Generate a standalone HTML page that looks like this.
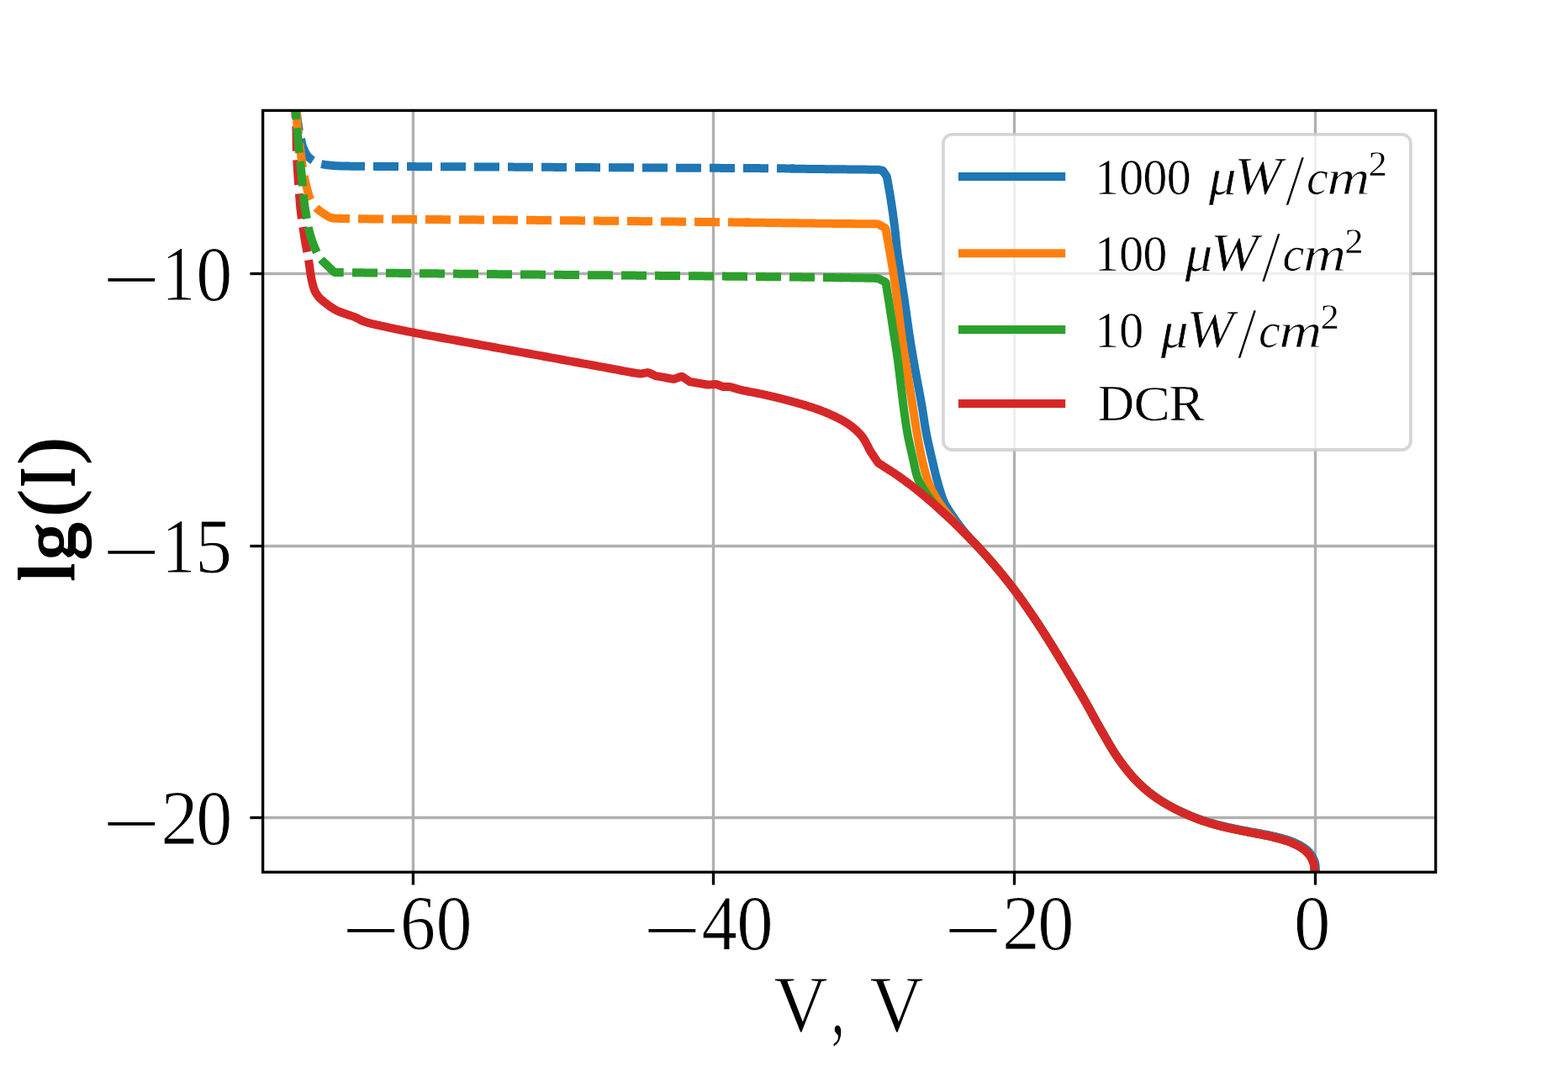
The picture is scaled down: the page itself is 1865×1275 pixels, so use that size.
<!DOCTYPE html>
<html lang="en"><head><meta charset="utf-8"><title>lg(I) vs V</title>
<style>html,body{margin:0;padding:0;background:#fff}body{width:1865px;height:1275px;overflow:hidden}svg{display:block}text{font-family:"Liberation Serif","DejaVu Serif",serif;fill:#000;white-space:pre}</style>
</head><body>
<svg width="1865" height="1275" viewBox="0 0 1865 1275">
<rect width="1865" height="1275" fill="#fff"/>
<defs><clipPath id="ax"><rect x="312.6" y="131.4" width="1395.0" height="905.9"/></clipPath></defs>
<g stroke="#b0b0b0" stroke-width="3.33" fill="none">
<line x1="491.4" y1="131.4" x2="491.4" y2="1037.3"/>
<line x1="848.5" y1="131.4" x2="848.5" y2="1037.3"/>
<line x1="1206.5" y1="131.4" x2="1206.5" y2="1037.3"/>
<line x1="1564.5" y1="131.4" x2="1564.5" y2="1037.3"/>
<line x1="312.6" y1="325.5" x2="1707.6" y2="325.5"/>
<line x1="312.6" y1="649.5" x2="1707.6" y2="649.5"/>
<line x1="312.6" y1="972.5" x2="1707.6" y2="972.5"/>
</g>
<g clip-path="url(#ax)" fill="none" stroke-width="10.0" stroke-linejoin="round" stroke-linecap="butt">
<path stroke="#1f77b4" d="M940.00 200.51 L941.50 200.55 L943.00 200.58 L944.50 200.61 L946.00 200.64 L947.50 200.68 L949.00 200.71 L950.50 200.74 L952.00 200.77 L953.50 200.80 L955.00 200.82 L956.50 200.85 L958.00 200.87 L959.50 200.89 L961.00 200.91 L962.50 200.93 L964.00 200.95 L965.50 200.97 L967.01 200.98 L968.51 201.00 L970.01 201.02 L971.51 201.03 L973.01 201.05 L974.51 201.06 L976.01 201.08 L977.51 201.09 L979.01 201.10 L980.51 201.12 L982.01 201.13 L983.51 201.15 L985.01 201.16 L986.51 201.17 L988.01 201.19 L989.51 201.20 L991.01 201.21 L992.51 201.23 L994.01 201.24 L995.51 201.26 L997.01 201.27 L998.51 201.28 L1000.01 201.30 L1001.52 201.32 L1003.02 201.33 L1004.52 201.35 L1006.02 201.36 L1007.52 201.38 L1009.02 201.39 L1010.52 201.41 L1012.02 201.42 L1013.52 201.44 L1015.02 201.45 L1016.52 201.47 L1018.02 201.48 L1019.52 201.50 L1021.02 201.51 L1022.52 201.53 L1024.02 201.54 L1025.52 201.56 L1027.02 201.58 L1028.52 201.59 L1030.02 201.61 L1031.52 201.63 L1033.02 201.64 L1034.52 201.66 L1036.03 201.68 L1037.53 201.70 L1039.03 201.72 L1040.53 201.74 L1042.03 201.76 L1043.53 201.78 L1045.03 201.80 L1046.50 202.07 L1047.98 202.35 L1049.45 202.63 L1050.45 203.64 L1051.29 204.88 L1052.14 206.12 L1052.99 207.36 L1053.84 208.60 L1054.69 209.83 L1055.03 211.28 L1055.29 212.76 L1055.55 214.23 L1055.82 215.71 L1056.08 217.19 L1056.34 218.67 L1056.61 220.14 L1056.87 221.62 L1057.13 223.10 L1057.40 224.57 L1057.66 226.05 L1057.92 227.53 L1058.19 229.01 L1058.45 230.48 L1058.68 231.97 L1058.92 233.45 L1059.15 234.93 L1059.38 236.41 L1059.61 237.90 L1059.84 239.38 L1060.07 240.86 L1060.29 242.35 L1060.51 243.83 L1060.74 245.31 L1060.95 246.80 L1061.17 248.28 L1061.39 249.77 L1061.60 251.25 L1061.81 252.74 L1062.02 254.22 L1062.23 255.71 L1062.43 257.20 L1062.63 258.68 L1062.83 260.17 L1063.03 261.66 L1063.23 263.15 L1063.42 264.63 L1063.61 266.12 L1063.80 267.61 L1063.98 269.10 L1064.17 270.59 L1064.35 272.08 L1064.52 273.57 L1064.69 275.06 L1064.85 276.55 L1065.01 278.04 L1065.16 279.54 L1065.31 281.03 L1065.46 282.52 L1065.61 284.02 L1065.76 285.51 L1065.90 287.00 L1066.05 288.50 L1066.20 289.99 L1066.35 291.48 L1066.50 292.98 L1066.66 294.47 L1066.83 295.96 L1067.00 297.45 L1067.17 298.94 L1067.35 300.43 L1067.54 301.92 L1067.74 303.41 L1067.95 304.89 L1068.16 306.38 L1068.37 307.86 L1068.59 309.35 L1068.82 310.83 L1069.04 312.31 L1069.27 313.80 L1069.49 315.28 L1069.72 316.76 L1069.94 318.25 L1070.16 319.73 L1070.38 321.22 L1070.60 322.70 L1070.82 324.19 L1071.04 325.67 L1071.26 327.15 L1071.49 328.64 L1071.71 330.12 L1071.93 331.61 L1072.16 333.09 L1072.38 334.57 L1072.61 336.06 L1072.83 337.54 L1073.06 339.02 L1073.28 340.51 L1073.51 341.99 L1073.73 343.47 L1073.96 344.96 L1074.18 346.44 L1074.40 347.92 L1074.63 349.41 L1074.85 350.89 L1075.07 352.38 L1075.29 353.86 L1075.51 355.34 L1075.73 356.83 L1075.95 358.31 L1076.17 359.80 L1076.39 361.28 L1076.60 362.77 L1076.81 364.25 L1077.03 365.74 L1077.23 367.22 L1077.44 368.71 L1077.65 370.20 L1077.86 371.68 L1078.06 373.17 L1078.27 374.66 L1078.48 376.14 L1078.68 377.63 L1078.89 379.11 L1079.09 380.60 L1079.30 382.09 L1079.51 383.57 L1079.72 385.06 L1079.93 386.55 L1080.14 388.03 L1080.35 389.52 L1080.56 391.00 L1080.78 392.49 L1080.99 393.97 L1081.21 395.46 L1081.43 396.94 L1081.66 398.42 L1081.89 399.91 L1082.11 401.39 L1082.35 402.87 L1082.58 404.35 L1082.81 405.84 L1083.05 407.32 L1083.29 408.80 L1083.53 410.28 L1083.77 411.76 L1084.01 413.24 L1084.26 414.72 L1084.50 416.20 L1084.75 417.68 L1085.00 419.16 L1085.25 420.64 L1085.50 422.12 L1085.75 423.60 L1086.00 425.08 L1086.26 426.56 L1086.51 428.04 L1086.77 429.52 L1087.03 431.00 L1087.28 432.47 L1087.54 433.95 L1087.80 435.43 L1088.06 436.91 L1088.32 438.39 L1088.58 439.86 L1088.84 441.34 L1089.10 442.82 L1089.37 444.29 L1089.64 445.77 L1089.91 447.25 L1090.18 448.72 L1090.46 450.20 L1090.73 451.67 L1091.01 453.15 L1091.29 454.62 L1091.57 456.10 L1091.85 457.57 L1092.13 459.04 L1092.41 460.52 L1092.69 461.99 L1092.97 463.47 L1093.25 464.94 L1093.53 466.41 L1093.81 467.89 L1094.08 469.36 L1094.36 470.84 L1094.63 472.32 L1094.90 473.79 L1095.16 475.27 L1095.43 476.75 L1095.69 478.22 L1095.95 479.70 L1096.20 481.18 L1096.45 482.66 L1096.70 484.14 L1096.94 485.62 L1097.17 487.10 L1097.41 488.58 L1097.64 490.07 L1097.87 491.55 L1098.10 493.03 L1098.33 494.52 L1098.56 496.00 L1098.78 497.48 L1099.01 498.96 L1099.24 500.45 L1099.48 501.93 L1099.71 503.41 L1099.95 504.89 L1100.19 506.37 L1100.44 507.85 L1100.69 509.33 L1100.94 510.81 L1101.20 512.29 L1101.47 513.77 L1101.75 515.24 L1102.03 516.72 L1102.31 518.19 L1102.61 519.66 L1102.91 521.13 L1103.21 522.60 L1103.52 524.07 L1103.84 525.53 L1104.16 527.00 L1104.48 528.47 L1104.81 529.93 L1105.13 531.40 L1105.47 532.86 L1105.80 534.32 L1106.14 535.78 L1106.47 537.25 L1106.81 538.71 L1107.15 540.17 L1107.49 541.63 L1107.83 543.09 L1108.17 544.55 L1108.51 546.02 L1108.85 547.48 L1109.19 548.94 L1109.53 550.40 L1109.86 551.86 L1110.20 553.32 L1110.54 554.79 L1110.89 556.25 L1111.23 557.71 L1111.58 559.17 L1111.93 560.63 L1112.28 562.08 L1112.64 563.54 L1113.00 565.00 L1113.37 566.45 L1113.74 567.91 L1114.12 569.36 L1114.51 570.81 L1114.90 572.26 L1115.30 573.70 L1115.71 575.15 L1116.13 576.59 L1116.54 578.03 L1116.95 579.47 L1117.37 580.91 L1117.80 582.35 L1118.23 583.79 L1118.67 585.22 L1119.12 586.65 L1119.58 588.08 L1120.06 589.50 L1120.56 590.92 L1121.07 592.33 L1121.60 593.73 L1122.15 595.13 L1122.73 596.52 L1123.33 597.89 L1123.98 599.24 L1124.68 600.57 L1125.42 601.87 L1126.19 603.16 L1126.99 604.44 L1127.79 605.70 L1128.61 606.96 L1129.43 608.21 L1130.25 609.47 L1131.06 610.73 L1131.89 611.98 L1132.73 613.23 L1133.57 614.47 L1134.43 615.70 L1135.29 616.93 L1136.16 618.15 L1137.04 619.37 L1137.92 620.58 L1138.81 621.79 L1139.70 623.00 L1140.59 624.21 L1141.49 625.41 L1142.40 626.60 L1143.31 627.80 L1144.23 628.98 L1145.15 630.17 L1146.08 631.34 L1147.03 632.51 L1147.98 633.67 L1148.94 634.82 L1149.91 635.96 L1150.90 637.09 L1151.91 638.20 L1152.93 639.31 L1153.95 640.40 L1154.99 641.49 L1156.02 642.57 L1157.06 643.66 L1158.09 644.74 L1159.12 645.84 L1160.14 646.94 L1161.16 648.04 L1162.17 649.15 L1163.19 650.25 L1164.20 651.36 L1165.22 652.46 L1166.23 653.57 L1167.24 654.68 L1168.26 655.78 L1169.27 656.89 L1170.28 658.00 L1171.28 659.12 L1172.29 660.23 L1173.29 661.35 L1174.29 662.46 L1175.29 663.59 L1176.28 664.71 L1177.27 665.84 L1178.26 666.97 L1179.24 668.10 L1180.22 669.24 L1181.20 670.38 L1182.17 671.52 L1183.15 672.66 L1184.12 673.80 L1185.09 674.95 L1186.05 676.10 L1187.02 677.25 L1187.98 678.40 L1188.94 679.55 L1189.90 680.70 L1190.86 681.86 L1191.81 683.02 L1192.77 684.18 L1193.72 685.34 L1194.66 686.50 L1195.61 687.67 L1196.55 688.84 L1197.49 690.01 L1198.42 691.18 L1199.35 692.36 L1200.28 693.54 L1201.21 694.72 L1202.13 695.90 L1203.05 697.08 L1203.97 698.27 L1204.88 699.46 L1205.79 700.66 L1206.70 701.85 L1207.60 703.05 L1208.50 704.26 L1209.39 705.46 L1210.28 706.67 L1211.17 707.88 L1212.05 709.09 L1212.93 710.31 L1213.81 711.52 L1214.69 712.74 L1215.56 713.96 L1216.43 715.19 L1217.29 716.41 L1218.16 717.64 L1219.02 718.87 L1219.88 720.10 L1220.73 721.33 L1221.59 722.56 L1222.44 723.80 L1223.29 725.03 L1224.14 726.27 L1224.99 727.51 L1225.84 728.75 L1226.68 729.99 L1227.52 731.23 L1228.37 732.47 L1229.21 733.71 L1230.05 734.96 L1230.88 736.20 L1231.72 737.45 L1232.55 738.70 L1233.38 739.95 L1234.21 741.20 L1235.04 742.45 L1235.86 743.70 L1236.68 744.96 L1237.50 746.22 L1238.32 747.47 L1239.13 748.73 L1239.95 749.99 L1240.76 751.26 L1241.57 752.52 L1242.38 753.78 L1243.19 755.05 L1243.99 756.31 L1244.80 757.58 L1245.60 758.85 L1246.40 760.12 L1247.20 761.39 L1248.00 762.66 L1248.80 763.93 L1249.59 765.20 L1250.39 766.47 L1251.19 767.74 L1251.98 769.02 L1252.77 770.29 L1253.56 771.57 L1254.34 772.85 L1255.13 774.13 L1255.91 775.41 L1256.69 776.69 L1257.47 777.97 L1258.25 779.25 L1259.03 780.53 L1259.81 781.82 L1260.59 783.10 L1261.36 784.39 L1262.13 785.67 L1262.91 786.96 L1263.68 788.24 L1264.45 789.53 L1265.22 790.82 L1265.99 792.11 L1266.76 793.39 L1267.54 794.68 L1268.31 795.97 L1269.07 797.26 L1269.84 798.54 L1270.61 799.83 L1271.38 801.12 L1272.15 802.41 L1272.92 803.70 L1273.69 804.99 L1274.46 806.27 L1275.23 807.56 L1276.00 808.85 L1276.76 810.14 L1277.53 811.43 L1278.30 812.72 L1279.06 814.01 L1279.83 815.30 L1280.59 816.60 L1281.35 817.89 L1282.11 819.18 L1282.87 820.48 L1283.63 821.77 L1284.39 823.07 L1285.15 824.36 L1285.90 825.66 L1286.65 826.96 L1287.41 828.25 L1288.16 829.55 L1288.91 830.85 L1289.65 832.15 L1290.40 833.46 L1291.14 834.76 L1291.88 836.07 L1292.61 837.38 L1293.34 838.69 L1294.07 840.00 L1294.80 841.31 L1295.52 842.62 L1296.25 843.94 L1296.97 845.26 L1297.69 846.57 L1298.41 847.89 L1299.13 849.21 L1299.85 850.52 L1300.57 851.84 L1301.29 853.16 L1302.01 854.47 L1302.73 855.79 L1303.45 857.10 L1304.18 858.42 L1304.90 859.73 L1305.63 861.04 L1306.37 862.35 L1307.10 863.66 L1307.84 864.96 L1308.58 866.27 L1309.33 867.57 L1310.08 868.87 L1310.83 870.16 L1311.59 871.46 L1312.33 872.76 L1313.08 874.06 L1313.83 875.37 L1314.58 876.67 L1315.33 877.97 L1316.08 879.27 L1316.83 880.57 L1317.58 881.86 L1318.34 883.16 L1319.09 884.46 L1319.86 885.75 L1320.62 887.04 L1321.39 888.32 L1322.17 889.61 L1322.95 890.89 L1323.74 892.17 L1324.54 893.44 L1325.34 894.71 L1326.15 895.97 L1326.97 897.23 L1327.79 898.48 L1328.63 899.72 L1329.48 900.96 L1330.33 902.20 L1331.20 903.42 L1332.07 904.65 L1332.94 905.87 L1333.82 907.08 L1334.71 908.29 L1335.61 909.49 L1336.51 910.69 L1337.42 911.88 L1338.34 913.07 L1339.27 914.25 L1340.20 915.42 L1341.14 916.59 L1342.09 917.75 L1343.05 918.91 L1344.02 920.06 L1345.00 921.19 L1345.98 922.32 L1346.98 923.45 L1347.98 924.56 L1349.00 925.67 L1350.02 926.76 L1351.06 927.85 L1352.11 928.92 L1353.16 929.99 L1354.23 931.05 L1355.30 932.10 L1356.38 933.13 L1357.47 934.16 L1358.57 935.18 L1359.68 936.19 L1360.80 937.19 L1361.93 938.18 L1363.07 939.16 L1364.21 940.13 L1365.37 941.09 L1366.53 942.04 L1367.70 942.97 L1368.89 943.90 L1370.08 944.81 L1371.28 945.71 L1372.49 946.59 L1373.71 947.47 L1374.94 948.33 L1376.18 949.18 L1377.42 950.01 L1378.68 950.84 L1379.94 951.65 L1381.20 952.46 L1382.48 953.25 L1383.75 954.04 L1385.04 954.81 L1386.33 955.58 L1387.63 956.33 L1388.93 957.08 L1390.24 957.81 L1391.55 958.54 L1392.87 959.26 L1394.19 959.96 L1395.52 960.66 L1396.86 961.35 L1398.19 962.02 L1399.54 962.69 L1400.89 963.35 L1402.24 964.00 L1403.59 964.64 L1404.95 965.28 L1406.32 965.90 L1407.69 966.52 L1409.06 967.13 L1410.43 967.74 L1411.81 968.33 L1413.18 968.93 L1414.57 969.51 L1415.95 970.09 L1417.34 970.66 L1418.73 971.23 L1420.12 971.79 L1421.52 972.33 L1422.92 972.87 L1424.32 973.41 L1425.73 973.93 L1427.14 974.44 L1428.55 974.93 L1429.97 975.42 L1431.40 975.90 L1432.82 976.37 L1434.25 976.83 L1435.68 977.28 L1437.11 977.72 L1438.55 978.16 L1439.99 978.58 L1441.43 979.00 L1442.87 979.41 L1444.32 979.82 L1445.77 980.21 L1447.21 980.60 L1448.67 980.98 L1450.12 981.36 L1451.57 981.73 L1453.03 982.08 L1454.49 982.44 L1455.95 982.78 L1457.41 983.12 L1458.88 983.45 L1460.34 983.77 L1461.81 984.09 L1463.27 984.41 L1464.74 984.72 L1466.21 985.03 L1467.68 985.34 L1469.15 985.64 L1470.62 985.95 L1472.09 986.25 L1473.56 986.55 L1475.03 986.84 L1476.50 987.12 L1477.98 987.41 L1479.45 987.69 L1480.92 987.97 L1482.40 988.25 L1483.87 988.52 L1485.35 988.80 L1486.82 989.08 L1488.30 989.35 L1489.77 989.63 L1491.25 989.91 L1492.72 990.19 L1494.20 990.47 L1495.67 990.74 L1497.15 991.00 L1498.62 991.27 L1500.10 991.54 L1501.58 991.81 L1503.05 992.09 L1504.53 992.37 L1506.00 992.65 L1507.47 992.95 L1508.94 993.25 L1510.41 993.56 L1511.87 993.88 L1513.34 994.21 L1514.80 994.55 L1516.26 994.88 L1517.72 995.23 L1519.18 995.58 L1520.64 995.94 L1522.09 996.32 L1523.54 996.70 L1524.99 997.10 L1526.43 997.50 L1527.87 997.93 L1529.31 998.36 L1530.74 998.82 L1532.16 999.29 L1533.58 999.78 L1534.99 1000.29 L1536.39 1000.82 L1537.79 1001.38 L1539.17 1001.96 L1540.55 1002.56 L1541.91 1003.19 L1543.26 1003.84 L1544.60 1004.52 L1545.92 1005.22 L1547.23 1005.96 L1548.52 1006.72 L1549.80 1007.52 L1551.04 1008.35 L1552.26 1009.23 L1553.44 1010.15 L1554.59 1011.12 L1555.67 1012.16 L1556.71 1013.24 L1557.70 1014.37 L1558.63 1015.54 L1559.52 1016.76 L1560.34 1018.01 L1561.09 1019.31 L1561.79 1020.64 L1562.46 1021.98 L1563.08 1023.35 L1563.63 1024.74 L1564.07 1026.18 L1564.36 1027.65 L1564.54 1029.14 L1564.69 1030.63 L1564.82 1032.12 L1564.91 1033.62 L1564.96 1035.12 L1564.99 1036.62 L1565.01 1038.12 L1565.02 1039.62 L1565.04 1041.12 L1565.05 1042.62 L1565.06 1044.12 L1565.07 1045.62 L1565.07 1047.13 L1565.07 1048.63"/>
<path stroke="#ff7f0e" d="M886.00 264.56 L887.50 264.58 L889.00 264.60 L890.50 264.62 L892.00 264.64 L893.50 264.66 L894.99 264.68 L896.49 264.70 L897.99 264.72 L899.49 264.74 L900.99 264.76 L902.49 264.78 L903.99 264.80 L905.49 264.81 L906.99 264.83 L908.49 264.85 L909.98 264.87 L911.48 264.89 L912.98 264.91 L914.48 264.93 L915.98 264.95 L917.48 264.97 L918.98 264.99 L920.48 265.01 L921.98 265.03 L923.48 265.05 L924.97 265.07 L926.47 265.09 L927.97 265.11 L929.47 265.13 L930.97 265.15 L932.47 265.17 L933.97 265.19 L935.47 265.21 L936.97 265.23 L938.47 265.24 L939.97 265.26 L941.46 265.28 L942.96 265.30 L944.46 265.32 L945.96 265.34 L947.46 265.36 L948.96 265.38 L950.46 265.40 L951.96 265.42 L953.46 265.43 L954.96 265.45 L956.45 265.47 L957.95 265.49 L959.45 265.51 L960.95 265.53 L962.45 265.55 L963.95 265.56 L965.45 265.58 L966.95 265.60 L968.45 265.62 L969.95 265.64 L971.44 265.65 L972.94 265.67 L974.44 265.69 L975.94 265.71 L977.44 265.72 L978.94 265.74 L980.44 265.76 L981.94 265.78 L983.44 265.79 L984.94 265.81 L986.44 265.83 L987.93 265.84 L989.43 265.86 L990.93 265.88 L992.43 265.89 L993.93 265.91 L995.43 265.92 L996.93 265.94 L998.43 265.96 L999.93 265.97 L1001.43 265.99 L1002.93 266.00 L1004.42 266.02 L1005.92 266.03 L1007.42 266.05 L1008.92 266.06 L1010.42 266.08 L1011.92 266.09 L1013.42 266.10 L1014.92 266.12 L1016.42 266.13 L1017.92 266.14 L1019.42 266.15 L1020.91 266.17 L1022.41 266.18 L1023.91 266.19 L1025.41 266.20 L1026.91 266.21 L1028.41 266.22 L1029.91 266.23 L1031.41 266.25 L1032.91 266.26 L1034.41 266.27 L1035.91 266.29 L1037.40 266.31 L1038.90 266.33 L1040.40 266.35 L1041.90 266.37 L1043.40 266.39 L1044.81 266.74 L1046.13 267.46 L1047.44 268.17 L1048.76 268.89 L1050.07 269.61 L1051.39 270.33 L1052.71 271.05 L1053.41 272.21 L1053.68 273.69 L1053.95 275.16 L1054.23 276.64 L1054.50 278.11 L1054.77 279.58 L1055.04 281.06 L1055.32 282.53 L1055.59 284.01 L1055.86 285.48 L1056.12 286.96 L1056.39 288.43 L1056.65 289.91 L1056.92 291.38 L1057.18 292.86 L1057.44 294.34 L1057.71 295.81 L1057.97 297.29 L1058.23 298.76 L1058.49 300.24 L1058.75 301.72 L1059.01 303.19 L1059.26 304.67 L1059.52 306.15 L1059.77 307.63 L1060.02 309.10 L1060.27 310.58 L1060.52 312.06 L1060.76 313.54 L1061.00 315.02 L1061.24 316.50 L1061.48 317.98 L1061.72 319.46 L1061.95 320.94 L1062.18 322.42 L1062.40 323.91 L1062.63 325.39 L1062.85 326.87 L1063.08 328.35 L1063.30 329.84 L1063.51 331.32 L1063.73 332.80 L1063.95 334.29 L1064.16 335.77 L1064.37 337.25 L1064.59 338.74 L1064.80 340.22 L1065.01 341.71 L1065.21 343.19 L1065.42 344.68 L1065.63 346.16 L1065.83 347.65 L1066.03 349.13 L1066.24 350.62 L1066.44 352.10 L1066.64 353.59 L1066.84 355.07 L1067.04 356.56 L1067.24 358.04 L1067.44 359.53 L1067.63 361.02 L1067.83 362.50 L1068.02 363.99 L1068.21 365.48 L1068.40 366.97 L1068.58 368.45 L1068.76 369.94 L1068.95 371.43 L1069.13 372.92 L1069.30 374.41 L1069.48 375.89 L1069.66 377.38 L1069.84 378.87 L1070.02 380.36 L1070.20 381.85 L1070.37 383.34 L1070.55 384.83 L1070.74 386.31 L1070.92 387.80 L1071.10 389.29 L1071.29 390.78 L1071.48 392.26 L1071.67 393.75 L1071.86 395.24 L1072.06 396.72 L1072.25 398.21 L1072.46 399.70 L1072.66 401.18 L1072.87 402.66 L1073.09 404.15 L1073.30 405.63 L1073.52 407.12 L1073.74 408.60 L1073.97 410.08 L1074.19 411.56 L1074.42 413.04 L1074.65 414.53 L1074.88 416.01 L1075.11 417.49 L1075.34 418.97 L1075.58 420.45 L1075.81 421.93 L1076.05 423.41 L1076.29 424.89 L1076.53 426.37 L1076.76 427.85 L1077.00 429.33 L1077.24 430.81 L1077.48 432.29 L1077.71 433.77 L1077.95 435.25 L1078.18 436.73 L1078.42 438.21 L1078.65 439.69 L1078.88 441.18 L1079.12 442.66 L1079.35 444.14 L1079.58 445.62 L1079.82 447.10 L1080.05 448.58 L1080.29 450.06 L1080.52 451.54 L1080.76 453.02 L1080.99 454.50 L1081.23 455.98 L1081.46 457.46 L1081.70 458.94 L1081.93 460.42 L1082.17 461.91 L1082.41 463.39 L1082.64 464.87 L1082.88 466.35 L1083.11 467.83 L1083.35 469.31 L1083.59 470.79 L1083.82 472.27 L1084.06 473.75 L1084.29 475.23 L1084.53 476.71 L1084.76 478.19 L1085.00 479.67 L1085.23 481.15 L1085.46 482.63 L1085.70 484.11 L1085.93 485.60 L1086.15 487.08 L1086.38 488.56 L1086.61 490.04 L1086.84 491.52 L1087.06 493.00 L1087.29 494.49 L1087.52 495.97 L1087.75 497.45 L1087.98 498.93 L1088.21 500.41 L1088.44 501.89 L1088.67 503.37 L1088.91 504.85 L1089.15 506.34 L1089.39 507.81 L1089.63 509.29 L1089.88 510.77 L1090.13 512.25 L1090.38 513.73 L1090.64 515.21 L1090.89 516.68 L1091.15 518.16 L1091.41 519.64 L1091.67 521.11 L1091.93 522.59 L1092.20 524.06 L1092.46 525.54 L1092.73 527.01 L1093.01 528.49 L1093.28 529.96 L1093.56 531.44 L1093.84 532.91 L1094.13 534.38 L1094.42 535.85 L1094.72 537.32 L1095.02 538.79 L1095.33 540.25 L1095.65 541.72 L1095.97 543.18 L1096.30 544.65 L1096.63 546.11 L1096.97 547.57 L1097.31 549.03 L1097.66 550.49 L1098.01 551.94 L1098.37 553.40 L1098.73 554.85 L1099.10 556.31 L1099.47 557.76 L1099.86 559.21 L1100.25 560.66 L1100.65 562.10 L1101.06 563.54 L1101.48 564.98 L1101.91 566.42 L1102.35 567.85 L1102.81 569.28 L1103.27 570.70 L1103.75 572.12 L1104.24 573.54 L1104.75 574.95 L1105.28 576.36 L1105.84 577.74 L1106.43 579.12 L1107.05 580.49 L1107.70 581.84 L1108.36 583.18 L1109.04 584.52 L1109.73 585.85 L1110.43 587.18 L1111.14 588.50 L1111.87 589.80 L1112.62 591.10 L1113.39 592.39 L1114.18 593.67 L1114.98 594.94 L1115.79 596.20 L1116.61 597.45 L1117.45 598.69 L1118.30 599.93 L1119.16 601.15 L1120.04 602.37 L1120.93 603.57 L1121.84 604.77 L1122.75 605.95 L1123.68 607.13 L1124.61 608.31 L1125.55 609.47 L1126.49 610.64 L1127.44 611.81 L1128.38 612.97 L1129.33 614.13 L1130.28 615.29 L1131.24 616.44 L1132.21 617.59 L1133.17 618.73 L1134.15 619.87 L1135.13 621.01 L1136.11 622.14 L1137.10 623.27 L1138.10 624.39 L1139.10 625.50 L1140.10 626.61 L1141.12 627.72 L1142.14 628.81 L1143.17 629.90 L1144.21 630.98 L1145.26 632.06 L1146.31 633.13 L1147.36 634.19 L1148.42 635.25 L1149.48 636.32 L1150.54 637.37 L1151.60 638.43 L1152.66 639.49 L1153.72 640.55 L1154.78 641.62 L1155.83 642.68 L1156.88 643.75 L1157.93 644.83 L1158.97 645.91 L1160.00 647.00 L1161.02 648.09 L1162.05 649.18 L1163.08 650.28 L1164.10 651.37 L1165.12 652.47 L1166.14 653.57 L1167.16 654.67 L1168.18 655.77 L1169.19 656.87 L1170.20 657.98 L1171.21 659.09 L1172.22 660.20 L1173.22 661.31 L1174.22 662.43 L1175.22 663.55 L1176.22 664.67 L1177.21 665.79 L1178.20 666.92 L1179.18 668.05 L1180.16 669.18 L1181.14 670.32 L1182.11 671.46 L1183.09 672.60 L1184.06 673.74 L1185.03 674.89 L1185.99 676.03 L1186.96 677.18 L1187.92 678.33 L1188.88 679.48 L1189.84 680.63 L1190.79 681.79 L1191.74 682.95 L1192.69 684.11 L1193.64 685.27 L1194.58 686.43 L1195.53 687.60 L1196.47 688.77 L1197.40 689.94 L1198.33 691.11 L1199.26 692.29 L1200.19 693.47 L1201.12 694.65 L1202.04 695.83 L1202.95 697.02 L1203.87 698.20 L1204.78 699.39 L1205.69 700.59 L1206.59 701.78 L1207.49 702.98 L1208.39 704.18 L1209.28 705.39 L1210.17 706.59 L1211.06 707.80 L1211.94 709.02 L1212.82 710.23 L1213.70 711.45 L1214.57 712.66 L1215.44 713.88 L1216.31 715.11 L1217.17 716.33 L1218.04 717.56 L1218.90 718.78 L1219.76 720.01 L1220.61 721.25 L1221.46 722.48 L1222.32 723.71 L1223.17 724.95 L1224.01 726.18 L1224.86 727.42 L1225.71 728.66 L1226.55 729.90 L1227.39 731.14 L1228.23 732.38 L1229.07 733.62 L1229.91 734.86 L1230.75 736.11 L1231.58 737.35 L1232.41 738.60 L1233.24 739.85 L1234.07 741.10 L1234.89 742.35 L1235.72 743.61 L1236.54 744.86 L1237.35 746.12 L1238.17 747.37 L1238.98 748.63 L1239.80 749.89 L1240.61 751.15 L1241.42 752.42 L1242.22 753.68 L1243.03 754.94 L1243.83 756.21 L1244.64 757.47 L1245.44 758.74 L1246.24 760.01 L1247.04 761.28 L1247.84 762.55 L1248.63 763.82 L1249.43 765.09 L1250.22 766.36 L1251.02 767.63 L1251.81 768.90 L1252.60 770.18 L1253.38 771.45 L1254.17 772.73 L1254.95 774.01 L1255.74 775.29 L1256.52 776.57 L1257.30 777.85 L1258.08 779.13 L1258.85 780.41 L1259.63 781.69 L1260.40 782.98 L1261.18 784.26 L1261.95 785.55 L1262.72 786.83 L1263.49 788.12 L1264.26 789.40 L1265.03 790.69 L1265.80 791.97 L1266.57 793.26 L1267.34 794.55 L1268.11 795.84 L1268.88 797.12 L1269.65 798.41 L1270.42 799.70 L1271.18 800.98 L1271.95 802.27 L1272.72 803.56 L1273.49 804.85 L1274.26 806.13 L1275.02 807.42 L1275.79 808.71 L1276.56 810.00 L1277.32 811.29 L1278.09 812.58 L1278.85 813.87 L1279.61 815.16 L1280.37 816.45 L1281.14 817.74 L1281.90 819.03 L1282.65 820.33 L1283.41 821.62 L1284.17 822.91 L1284.92 824.21 L1285.68 825.51 L1286.43 826.80 L1287.18 828.10 L1287.93 829.40 L1288.68 830.70 L1289.43 832.00 L1290.17 833.30 L1290.91 834.60 L1291.65 835.91 L1292.38 837.21 L1293.11 838.52 L1293.84 839.83 L1294.57 841.14 L1295.29 842.46 L1296.01 843.77 L1296.73 845.09 L1297.45 846.40 L1298.17 847.72 L1298.89 849.03 L1299.61 850.35 L1300.33 851.67 L1301.04 852.98 L1301.76 854.30 L1302.48 855.61 L1303.20 856.93 L1303.93 858.24 L1304.65 859.55 L1305.38 860.86 L1306.11 862.17 L1306.85 863.48 L1307.58 864.78 L1308.32 866.09 L1309.07 867.39 L1309.82 868.69 L1310.57 869.98 L1311.32 871.28 L1312.07 872.58 L1312.81 873.88 L1313.56 875.18 L1314.31 876.48 L1315.05 877.78 L1315.80 879.08 L1316.55 880.38 L1317.30 881.68 L1318.06 882.97 L1318.81 884.27 L1319.57 885.56 L1320.34 886.85 L1321.11 888.13 L1321.88 889.42 L1322.66 890.70 L1323.44 891.98 L1324.24 893.25 L1325.04 894.52 L1325.84 895.78 L1326.66 897.04 L1327.48 898.29 L1328.31 899.54 L1329.16 900.78 L1330.01 902.01 L1330.87 903.24 L1331.74 904.46 L1332.61 905.68 L1333.49 906.90 L1334.37 908.11 L1335.27 909.31 L1336.17 910.51 L1337.07 911.70 L1337.99 912.89 L1338.91 914.07 L1339.84 915.25 L1340.78 916.42 L1341.72 917.58 L1342.68 918.74 L1343.64 919.88 L1344.62 921.02 L1345.60 922.16 L1346.59 923.28 L1347.59 924.40 L1348.60 925.50 L1349.62 926.60 L1350.66 927.69 L1351.70 928.77 L1352.75 929.84 L1353.81 930.90 L1354.88 931.95 L1355.96 932.99 L1357.05 934.02 L1358.14 935.04 L1359.25 936.05 L1360.36 937.05 L1361.49 938.05 L1362.62 939.03 L1363.76 940.00 L1364.91 940.96 L1366.07 941.91 L1367.24 942.85 L1368.42 943.78 L1369.60 944.70 L1370.80 945.60 L1372.00 946.49 L1373.22 947.37 L1374.44 948.24 L1375.67 949.09 L1376.91 949.94 L1378.16 950.77 L1379.41 951.59 L1380.67 952.40 L1381.94 953.20 L1383.21 953.99 L1384.49 954.78 L1385.78 955.55 L1387.07 956.31 L1388.36 957.06 L1389.67 957.81 L1390.97 958.55 L1392.28 959.27 L1393.60 959.99 L1394.92 960.70 L1396.25 961.39 L1397.58 962.08 L1398.92 962.76 L1400.26 963.43 L1401.60 964.09 L1402.95 964.74 L1404.31 965.39 L1405.66 966.03 L1407.02 966.66 L1408.39 967.28 L1409.76 967.89 L1411.13 968.50 L1412.50 969.10 L1413.87 969.70 L1415.25 970.29 L1416.63 970.87 L1418.02 971.45 L1419.41 972.01 L1420.80 972.57 L1422.19 973.12 L1423.59 973.67 L1424.99 974.20 L1426.40 974.72 L1427.81 975.23 L1429.22 975.73 L1430.64 976.22 L1432.06 976.70 L1433.48 977.17 L1434.91 977.63 L1436.34 978.08 L1437.77 978.53 L1439.20 978.97 L1440.64 979.40 L1442.08 979.82 L1443.52 980.23 L1444.96 980.64 L1446.40 981.04 L1447.85 981.43 L1449.30 981.82 L1450.75 982.19 L1452.20 982.56 L1453.66 982.92 L1455.12 983.28 L1456.57 983.63 L1458.03 983.97 L1459.50 984.30 L1460.96 984.63 L1462.42 984.96 L1463.88 985.28 L1465.35 985.60 L1466.81 985.92 L1468.28 986.23 L1469.75 986.55 L1471.21 986.86 L1472.68 987.16 L1474.15 987.47 L1475.62 987.76 L1477.09 988.06 L1478.56 988.35 L1480.03 988.64 L1481.50 988.93 L1482.97 989.22 L1484.44 989.50 L1485.91 989.79 L1487.39 990.08 L1488.86 990.37 L1490.33 990.67 L1491.80 990.95 L1493.27 991.24 L1494.74 991.52 L1496.21 991.80 L1497.69 992.08 L1499.16 992.36 L1500.63 992.65 L1502.10 992.93 L1503.57 993.23 L1505.04 993.52 L1506.51 993.83 L1507.98 994.15 L1509.44 994.47 L1510.90 994.81 L1512.36 995.15 L1513.82 995.49 L1515.28 995.84 L1516.73 996.20 L1518.19 996.57 L1519.64 996.94 L1521.09 997.33 L1522.53 997.72 L1523.98 998.13 L1525.41 998.55 L1526.85 998.98 L1528.28 999.43 L1529.70 999.90 L1531.12 1000.39 L1532.53 1000.89 L1533.94 1001.42 L1535.33 1001.96 L1536.72 1002.53 L1538.10 1003.12 L1539.47 1003.73 L1540.82 1004.37 L1542.17 1005.04 L1543.50 1005.73 L1544.81 1006.45 L1546.11 1007.20 L1547.39 1007.97 L1548.66 1008.78 L1549.89 1009.63 L1551.10 1010.52 L1552.27 1011.45 L1553.40 1012.44 L1554.48 1013.48 L1555.51 1014.57 L1556.48 1015.71 L1557.41 1016.89 L1558.28 1018.11 L1559.09 1019.37 L1559.83 1020.67 L1560.51 1022.01 L1561.16 1023.36 L1561.77 1024.73 L1562.30 1026.13 L1562.73 1027.57 L1563.00 1029.04 L1563.18 1030.53 L1563.33 1032.02 L1563.45 1033.51 L1563.54 1035.01 L1563.59 1036.51 L1563.61 1038.01 L1563.63 1039.51 L1563.65 1041.01 L1563.67 1042.50 L1563.68 1044.00 L1563.69 1045.50 L1563.69 1047.00 L1563.70 1048.50 L1563.70 1050.00"/>
<path stroke="#2ca02c" d="M999.00 330.20 L1000.50 330.22 L1002.00 330.25 L1003.50 330.27 L1005.00 330.29 L1006.50 330.31 L1008.00 330.33 L1009.50 330.35 L1011.00 330.37 L1012.50 330.39 L1014.00 330.41 L1015.50 330.44 L1017.00 330.46 L1018.50 330.48 L1020.00 330.50 L1021.50 330.52 L1023.00 330.55 L1024.50 330.57 L1026.01 330.59 L1027.51 330.62 L1029.01 330.64 L1030.51 330.67 L1032.01 330.70 L1033.51 330.73 L1035.01 330.76 L1036.51 330.79 L1038.01 330.83 L1039.51 330.87 L1041.01 330.91 L1042.51 330.96 L1044.01 331.00 L1045.36 331.63 L1046.70 332.30 L1048.04 332.97 L1049.38 333.64 L1050.73 334.31 L1052.07 334.98 L1053.41 335.65 L1053.72 337.08 L1053.96 338.56 L1054.20 340.04 L1054.44 341.52 L1054.68 343.01 L1054.92 344.49 L1055.16 345.97 L1055.40 347.45 L1055.64 348.93 L1055.88 350.41 L1056.12 351.89 L1056.36 353.37 L1056.59 354.86 L1056.83 356.34 L1057.07 357.82 L1057.31 359.30 L1057.55 360.78 L1057.78 362.26 L1058.01 363.75 L1058.24 365.23 L1058.47 366.71 L1058.70 368.19 L1058.93 369.68 L1059.16 371.16 L1059.38 372.64 L1059.61 374.13 L1059.83 375.61 L1060.06 377.09 L1060.29 378.58 L1060.51 380.06 L1060.73 381.54 L1060.96 383.03 L1061.18 384.51 L1061.41 385.99 L1061.63 387.48 L1061.86 388.96 L1062.08 390.44 L1062.31 391.93 L1062.54 393.41 L1062.76 394.89 L1062.99 396.38 L1063.22 397.86 L1063.45 399.34 L1063.68 400.83 L1063.91 402.31 L1064.15 403.79 L1064.39 405.27 L1064.63 406.75 L1064.86 408.23 L1065.10 409.71 L1065.34 411.20 L1065.58 412.68 L1065.81 414.16 L1066.04 415.64 L1066.26 417.13 L1066.49 418.61 L1066.70 420.09 L1066.91 421.58 L1067.12 423.07 L1067.32 424.55 L1067.52 426.04 L1067.72 427.53 L1067.92 429.01 L1068.11 430.50 L1068.31 431.99 L1068.50 433.48 L1068.69 434.97 L1068.88 436.45 L1069.06 437.94 L1069.25 439.43 L1069.43 440.92 L1069.62 442.41 L1069.80 443.90 L1069.98 445.39 L1070.17 446.88 L1070.35 448.37 L1070.53 449.86 L1070.71 451.35 L1070.89 452.84 L1071.07 454.33 L1071.25 455.81 L1071.43 457.30 L1071.62 458.79 L1071.80 460.28 L1071.98 461.77 L1072.17 463.26 L1072.36 464.75 L1072.54 466.24 L1072.73 467.73 L1072.91 469.22 L1073.09 470.71 L1073.27 472.20 L1073.45 473.68 L1073.63 475.17 L1073.81 476.66 L1073.99 478.15 L1074.18 479.64 L1074.36 481.13 L1074.54 482.62 L1074.73 484.11 L1074.92 485.60 L1075.12 487.09 L1075.31 488.57 L1075.51 490.06 L1075.72 491.55 L1075.92 493.03 L1076.13 494.52 L1076.34 496.00 L1076.55 497.49 L1076.76 498.98 L1076.98 500.46 L1077.19 501.94 L1077.42 503.43 L1077.64 504.91 L1077.87 506.39 L1078.10 507.88 L1078.34 509.36 L1078.59 510.84 L1078.83 512.32 L1079.09 513.80 L1079.35 515.27 L1079.62 516.75 L1079.89 518.23 L1080.18 519.70 L1080.47 521.17 L1080.77 522.64 L1081.07 524.11 L1081.38 525.58 L1081.70 527.04 L1082.02 528.51 L1082.34 529.98 L1082.67 531.44 L1083.00 532.90 L1083.33 534.37 L1083.67 535.83 L1084.00 537.29 L1084.34 538.75 L1084.68 540.22 L1085.02 541.68 L1085.35 543.14 L1085.69 544.60 L1086.02 546.07 L1086.34 547.53 L1086.65 549.00 L1086.96 550.47 L1087.27 551.94 L1087.58 553.40 L1087.89 554.87 L1088.20 556.34 L1088.53 557.80 L1088.87 559.26 L1089.22 560.72 L1089.59 562.18 L1089.98 563.63 L1090.40 565.07 L1090.84 566.50 L1091.31 567.93 L1091.84 569.33 L1092.43 570.71 L1093.06 572.07 L1093.72 573.42 L1094.42 574.75 L1095.13 576.07 L1095.86 577.38 L1096.59 578.69 L1097.34 579.99 L1098.13 581.27 L1098.93 582.53 L1099.75 583.79 L1100.59 585.04 L1101.44 586.27 L1102.30 587.50 L1103.16 588.73 L1104.03 589.95 L1104.92 591.16 L1105.81 592.37 L1106.71 593.57 L1107.63 594.76 L1108.56 595.93 L1109.50 597.10 L1110.47 598.25 L1111.45 599.38 L1112.45 600.50 L1113.49 601.58 L1114.55 602.65 L1115.62 603.69 L1116.71 604.72 L1117.81 605.75 L1118.91 606.77 L1120.00 607.80 L1121.09 608.83 L1122.19 609.84 L1123.30 610.86 L1124.41 611.86 L1125.53 612.87 L1126.64 613.88 L1127.74 614.89 L1128.84 615.91 L1129.94 616.94 L1131.02 617.98 L1132.11 619.01 L1133.19 620.05 L1134.27 621.09 L1135.35 622.14 L1136.43 623.18 L1137.50 624.23 L1138.57 625.28 L1139.65 626.33 L1140.72 627.38 L1141.78 628.43 L1142.85 629.49 L1143.91 630.54 L1144.98 631.60 L1146.04 632.67 L1147.10 633.73 L1148.15 634.79 L1149.21 635.86 L1150.26 636.93 L1151.31 638.00 L1152.36 639.07 L1153.41 640.15 L1154.45 641.22 L1155.50 642.30 L1156.54 643.38 L1157.58 644.46 L1158.62 645.55 L1159.65 646.63 L1160.68 647.72 L1161.72 648.81 L1162.74 649.90 L1163.77 651.00 L1164.80 652.09 L1165.82 653.19 L1166.84 654.29 L1167.86 655.39 L1168.87 656.50 L1169.88 657.60 L1170.89 658.71 L1171.90 659.83 L1172.91 660.94 L1173.91 662.06 L1174.90 663.18 L1175.90 664.30 L1176.89 665.43 L1177.88 666.56 L1178.87 667.69 L1179.85 668.82 L1180.83 669.96 L1181.80 671.10 L1182.78 672.24 L1183.75 673.38 L1184.72 674.53 L1185.69 675.67 L1186.66 676.82 L1187.62 677.97 L1188.58 679.12 L1189.54 680.28 L1190.50 681.43 L1191.45 682.59 L1192.40 683.75 L1193.35 684.91 L1194.30 686.08 L1195.24 687.24 L1196.18 688.41 L1197.12 689.58 L1198.05 690.76 L1198.98 691.93 L1199.91 693.11 L1200.84 694.29 L1201.76 695.48 L1202.68 696.66 L1203.60 697.85 L1204.51 699.04 L1205.42 700.23 L1206.33 701.43 L1207.23 702.63 L1208.13 703.83 L1209.02 705.04 L1209.91 706.24 L1210.80 707.45 L1211.68 708.66 L1212.57 709.88 L1213.44 711.09 L1214.32 712.31 L1215.19 713.53 L1216.06 714.76 L1216.93 715.98 L1217.79 717.21 L1218.65 718.44 L1219.51 719.67 L1220.37 720.90 L1221.23 722.13 L1222.08 723.37 L1222.93 724.60 L1223.78 725.84 L1224.63 727.08 L1225.47 728.32 L1226.32 729.56 L1227.16 730.80 L1228.00 732.04 L1228.84 733.28 L1229.68 734.53 L1230.52 735.77 L1231.35 737.02 L1232.19 738.26 L1233.02 739.51 L1233.85 740.76 L1234.67 742.02 L1235.50 743.27 L1236.32 744.53 L1237.14 745.78 L1237.95 747.04 L1238.77 748.30 L1239.58 749.56 L1240.40 750.82 L1241.21 752.09 L1242.01 753.35 L1242.82 754.62 L1243.63 755.88 L1244.43 757.15 L1245.23 758.42 L1246.03 759.68 L1246.83 760.95 L1247.63 762.22 L1248.43 763.49 L1249.23 764.77 L1250.02 766.04 L1250.82 767.31 L1251.61 768.58 L1252.40 769.86 L1253.19 771.14 L1253.98 772.41 L1254.76 773.69 L1255.54 774.97 L1256.33 776.25 L1257.11 777.53 L1257.89 778.82 L1258.66 780.10 L1259.44 781.38 L1260.22 782.67 L1260.99 783.95 L1261.77 785.24 L1262.54 786.52 L1263.31 787.81 L1264.08 789.10 L1264.85 790.38 L1265.62 791.67 L1266.39 792.96 L1267.16 794.25 L1267.93 795.54 L1268.70 796.82 L1269.47 798.11 L1270.24 799.40 L1271.01 800.69 L1271.78 801.98 L1272.55 803.27 L1273.31 804.55 L1274.08 805.84 L1274.85 807.13 L1275.62 808.42 L1276.38 809.71 L1277.15 811.00 L1277.92 812.29 L1278.68 813.58 L1279.44 814.87 L1280.21 816.17 L1280.97 817.46 L1281.73 818.75 L1282.49 820.05 L1283.25 821.34 L1284.01 822.64 L1284.76 823.93 L1285.52 825.23 L1286.27 826.53 L1287.02 827.82 L1287.77 829.12 L1288.52 830.42 L1289.27 831.72 L1290.01 833.03 L1290.76 834.33 L1291.50 835.64 L1292.23 836.94 L1292.96 838.25 L1293.69 839.56 L1294.42 840.88 L1295.14 842.19 L1295.87 843.51 L1296.59 844.82 L1297.31 846.14 L1298.03 847.45 L1298.75 848.77 L1299.47 850.09 L1300.18 851.41 L1300.90 852.72 L1301.62 854.04 L1302.34 855.36 L1303.06 856.67 L1303.79 857.99 L1304.51 859.30 L1305.24 860.61 L1305.97 861.92 L1306.71 863.23 L1307.44 864.54 L1308.18 865.84 L1308.93 867.14 L1309.68 868.44 L1310.43 869.74 L1311.18 871.04 L1311.93 872.34 L1312.68 873.64 L1313.42 874.94 L1314.17 876.24 L1314.92 877.55 L1315.67 878.85 L1316.42 880.15 L1317.17 881.44 L1317.92 882.74 L1318.68 884.04 L1319.44 885.33 L1320.20 886.62 L1320.97 887.91 L1321.75 889.20 L1322.52 890.48 L1323.31 891.76 L1324.10 893.03 L1324.90 894.30 L1325.71 895.57 L1326.52 896.83 L1327.34 898.08 L1328.17 899.33 L1329.02 900.57 L1329.87 901.81 L1330.73 903.04 L1331.59 904.26 L1332.47 905.48 L1333.34 906.70 L1334.23 907.91 L1335.12 909.12 L1336.02 910.32 L1336.93 911.51 L1337.84 912.70 L1338.76 913.89 L1339.69 915.07 L1340.63 916.24 L1341.58 917.40 L1342.53 918.56 L1343.50 919.71 L1344.47 920.85 L1345.45 921.99 L1346.44 923.11 L1347.44 924.23 L1348.45 925.34 L1349.47 926.44 L1350.50 927.53 L1351.55 928.61 L1352.60 929.68 L1353.66 930.74 L1354.72 931.80 L1355.80 932.84 L1356.89 933.87 L1357.99 934.90 L1359.09 935.91 L1360.21 936.92 L1361.33 937.91 L1362.46 938.89 L1363.60 939.87 L1364.76 940.83 L1365.91 941.78 L1367.08 942.73 L1368.26 943.66 L1369.45 944.58 L1370.64 945.48 L1371.85 946.38 L1373.06 947.26 L1374.28 948.13 L1375.51 948.99 L1376.75 949.83 L1378.00 950.67 L1379.25 951.49 L1380.52 952.30 L1381.78 953.10 L1383.06 953.90 L1384.34 954.68 L1385.62 955.45 L1386.91 956.22 L1388.21 956.97 L1389.51 957.72 L1390.82 958.46 L1392.13 959.19 L1393.45 959.91 L1394.77 960.61 L1396.10 961.31 L1397.43 962.00 L1398.77 962.68 L1400.11 963.35 L1401.45 964.02 L1402.80 964.67 L1404.16 965.32 L1405.52 965.96 L1406.88 966.59 L1408.24 967.21 L1409.61 967.83 L1410.98 968.44 L1412.36 969.04 L1413.73 969.64 L1415.11 970.23 L1416.49 970.81 L1417.88 971.39 L1419.27 971.96 L1420.66 972.52 L1422.05 973.07 L1423.45 973.61 L1424.85 974.15 L1426.26 974.67 L1427.67 975.18 L1429.08 975.68 L1430.50 976.17 L1431.92 976.65 L1433.35 977.12 L1434.78 977.59 L1436.21 978.04 L1437.64 978.49 L1439.07 978.93 L1440.51 979.36 L1441.95 979.78 L1443.39 980.20 L1444.84 980.61 L1446.28 981.01 L1447.73 981.40 L1449.18 981.78 L1450.63 982.16 L1452.09 982.53 L1453.54 982.90 L1455.00 983.25 L1456.46 983.60 L1457.92 983.94 L1459.38 984.28 L1460.85 984.61 L1462.31 984.93 L1463.78 985.26 L1465.24 985.58 L1466.71 985.89 L1468.17 986.21 L1469.64 986.52 L1471.11 986.84 L1472.58 987.14 L1474.05 987.45 L1475.52 987.74 L1476.99 988.04 L1478.46 988.33 L1479.93 988.62 L1481.40 988.91 L1482.88 989.20 L1484.35 989.49 L1485.82 989.77 L1487.29 990.06 L1488.77 990.35 L1490.24 990.65 L1491.71 990.94 L1493.18 991.22 L1494.66 991.51 L1496.13 991.79 L1497.60 992.07 L1499.08 992.35 L1500.55 992.63 L1502.02 992.92 L1503.50 993.21 L1504.97 993.51 L1506.44 993.82 L1507.90 994.13 L1509.37 994.46 L1510.83 994.79 L1512.29 995.13 L1513.75 995.48 L1515.21 995.83 L1516.67 996.19 L1518.12 996.55 L1519.57 996.92 L1521.03 997.31 L1522.47 997.70 L1523.92 998.11 L1525.36 998.53 L1526.79 998.97 L1528.22 999.42 L1529.65 999.88 L1531.07 1000.37 L1532.48 1000.87 L1533.89 1001.40 L1535.29 1001.94 L1536.68 1002.51 L1538.05 1003.10 L1539.42 1003.71 L1540.78 1004.35 L1542.13 1005.02 L1543.46 1005.71 L1544.78 1006.43 L1546.08 1007.17 L1547.36 1007.95 L1548.62 1008.76 L1549.86 1009.61 L1551.07 1010.49 L1552.25 1011.43 L1553.38 1012.41 L1554.46 1013.46 L1555.49 1014.55 L1556.46 1015.69 L1557.39 1016.86 L1558.26 1018.09 L1559.08 1019.35 L1559.82 1020.65 L1560.50 1021.99 L1561.15 1023.34 L1561.76 1024.71 L1562.30 1026.11 L1562.73 1027.55 L1563.00 1029.02 L1563.18 1030.51 L1563.33 1032.00 L1563.45 1033.50 L1563.54 1035.00 L1563.59 1036.50 L1563.61 1038.00 L1563.63 1039.50 L1563.65 1041.00 L1563.67 1042.50 L1563.68 1044.00 L1563.69 1045.50 L1563.69 1047.00 L1563.70 1048.50 L1563.70 1050.00"/>
<path stroke="#d62728" d="M367.04 309.31 L367.28 310.79 L367.51 312.28 L367.73 313.76 L367.93 315.25 L368.14 316.73 L368.34 318.22 L368.53 319.71 L368.74 321.19 L368.94 322.68 L369.15 324.16 L369.38 325.65 L369.61 327.13 L369.87 328.60 L370.14 330.08 L370.43 331.55 L370.73 333.02 L371.04 334.49 L371.37 335.95 L371.72 337.41 L372.09 338.86 L372.49 340.31 L372.92 341.75 L373.38 343.17 L373.89 344.58 L374.44 345.98 L375.09 347.33 L375.82 348.64 L376.62 349.91 L377.47 351.14 L378.38 352.34 L379.34 353.49 L380.37 354.58 L381.45 355.62 L382.57 356.62 L383.71 357.59 L384.86 358.55 L386.02 359.50 L387.19 360.45 L388.36 361.38 L389.55 362.29 L390.75 363.19 L391.97 364.07 L393.20 364.93 L394.44 365.76 L395.71 366.57 L396.99 367.35 L398.29 368.09 L399.61 368.80 L400.96 369.47 L402.32 370.09 L403.70 370.68 L405.09 371.24 L406.50 371.77 L407.91 372.28 L409.32 372.77 L410.75 373.25 L412.17 373.72 L413.59 374.19 L415.02 374.66 L416.44 375.14 L417.86 375.62 L419.27 376.12 L420.68 376.65 L422.08 377.19 L423.46 377.77 L424.83 378.39 L426.16 379.07 L427.48 379.79 L428.79 380.52 L430.12 381.20 L431.50 381.81 L432.91 382.32 L434.33 382.80 L435.76 383.25 L437.19 383.68 L438.64 384.09 L440.08 384.49 L441.53 384.87 L442.99 385.23 L444.45 385.58 L445.91 385.92 L447.37 386.25 L448.84 386.58 L450.30 386.90 L451.77 387.21 L453.23 387.53 L454.70 387.84 L456.17 388.15 L457.63 388.47 L459.10 388.80 L460.56 389.13 L462.02 389.46 L463.49 389.78 L464.95 390.10 L466.42 390.42 L467.89 390.73 L469.35 391.05 L470.82 391.36 L472.29 391.66 L473.76 391.97 L475.23 392.27 L476.70 392.57 L478.17 392.87 L479.64 393.16 L481.11 393.46 L482.58 393.75 L484.05 394.04 L485.52 394.33 L486.99 394.62 L488.47 394.91 L489.94 395.20 L491.41 395.48 L492.88 395.77 L494.35 396.06 L495.83 396.34 L497.30 396.62 L498.77 396.90 L500.25 397.18 L501.72 397.46 L503.20 397.73 L504.67 398.00 L506.15 398.28 L507.62 398.55 L509.10 398.82 L510.57 399.09 L512.05 399.36 L513.52 399.63 L515.00 399.89 L516.48 400.16 L517.95 400.43 L519.43 400.69 L520.90 400.96 L522.38 401.22 L523.86 401.49 L525.33 401.75 L526.81 402.02 L528.29 402.28 L529.76 402.55 L531.24 402.81 L532.71 403.08 L534.19 403.35 L535.67 403.61 L537.14 403.88 L538.62 404.15 L540.09 404.42 L541.57 404.69 L543.04 404.96 L544.52 405.22 L546.00 405.49 L547.47 405.76 L548.95 406.03 L550.42 406.30 L551.90 406.57 L553.37 406.84 L554.85 407.10 L556.33 407.37 L557.80 407.64 L559.28 407.91 L560.75 408.18 L562.23 408.45 L563.70 408.71 L565.18 408.98 L566.66 409.25 L568.13 409.52 L569.61 409.79 L571.08 410.05 L572.56 410.32 L574.03 410.59 L575.51 410.86 L576.99 411.12 L578.46 411.39 L579.94 411.66 L581.41 411.93 L582.89 412.19 L584.37 412.46 L585.84 412.73 L587.32 413.00 L588.79 413.27 L590.27 413.53 L591.74 413.80 L593.22 414.07 L594.70 414.34 L596.17 414.60 L597.65 414.87 L599.12 415.14 L600.60 415.41 L602.07 415.68 L603.55 415.94 L605.03 416.21 L606.50 416.48 L607.98 416.75 L609.45 417.02 L610.93 417.28 L612.41 417.55 L613.88 417.82 L615.36 418.09 L616.83 418.35 L618.31 418.62 L619.78 418.89 L621.26 419.16 L622.74 419.43 L624.21 419.69 L625.69 419.96 L627.16 420.23 L628.64 420.50 L630.12 420.76 L631.59 421.03 L633.07 421.30 L634.54 421.57 L636.02 421.84 L637.49 422.10 L638.97 422.37 L640.45 422.64 L641.92 422.91 L643.40 423.18 L644.87 423.44 L646.35 423.71 L647.82 423.98 L649.30 424.25 L650.78 424.52 L652.25 424.79 L653.73 425.06 L655.20 425.32 L656.68 425.59 L658.15 425.86 L659.63 426.13 L661.10 426.40 L662.58 426.67 L664.06 426.94 L665.53 427.21 L667.01 427.48 L668.48 427.75 L669.96 428.02 L671.43 428.29 L672.91 428.56 L674.38 428.84 L675.86 429.11 L677.33 429.38 L678.81 429.65 L680.28 429.92 L681.76 430.19 L683.23 430.46 L684.71 430.73 L686.18 431.00 L687.66 431.27 L689.14 431.54 L690.61 431.81 L692.09 432.08 L693.56 432.35 L695.04 432.62 L696.51 432.89 L697.99 433.16 L699.46 433.43 L700.94 433.70 L702.42 433.97 L703.89 434.24 L705.37 434.50 L706.84 434.77 L708.32 435.04 L709.79 435.31 L711.27 435.58 L712.74 435.85 L714.22 436.12 L715.70 436.39 L717.17 436.66 L718.65 436.92 L720.12 437.19 L721.60 437.46 L723.07 437.73 L724.55 438.00 L726.02 438.27 L727.50 438.54 L728.97 438.81 L730.45 439.08 L731.92 439.36 L733.40 439.63 L734.87 439.91 L736.35 440.20 L737.82 440.48 L739.29 440.77 L740.76 441.05 L742.24 441.33 L743.71 441.61 L745.18 441.89 L746.66 442.16 L748.13 442.43 L749.61 442.70 L751.09 442.95 L752.57 443.21 L754.05 443.45 L755.53 443.68 L757.01 443.89 L758.50 444.10 L759.98 444.31 L761.47 444.52 L762.95 444.43 L764.43 444.17 L765.90 443.91 L767.38 443.64 L768.86 443.38 L770.33 443.12 L771.74 443.35 L773.10 443.99 L774.46 444.63 L775.82 445.27 L777.17 445.90 L778.53 446.54 L779.92 447.08 L781.40 447.34 L782.87 447.61 L784.35 447.88 L785.82 448.15 L787.30 448.42 L788.77 448.69 L790.25 448.95 L791.73 449.22 L793.20 449.49 L794.68 449.76 L796.15 450.03 L797.63 450.30 L799.10 450.56 L800.58 450.83 L802.03 450.81 L803.44 450.30 L804.86 449.80 L806.27 449.29 L807.68 448.79 L809.09 448.28 L810.51 447.78 L811.81 448.14 L813.05 448.98 L814.30 449.82 L815.54 450.66 L816.78 451.50 L818.03 452.33 L819.27 453.17 L820.52 454.00 L822.00 454.25 L823.48 454.50 L824.96 454.75 L826.44 454.99 L827.92 455.24 L829.39 455.49 L830.87 455.74 L832.35 455.98 L833.83 456.23 L835.31 456.48 L836.79 456.73 L838.27 456.98 L839.75 457.22 L841.23 457.47 L842.72 457.56 L844.21 457.47 L845.71 457.38 L847.21 457.29 L848.71 457.20 L850.20 457.11 L851.70 457.02 L853.12 457.42 L854.53 457.95 L855.93 458.47 L857.34 459.00 L858.74 459.53 L860.16 460.00 L861.66 460.00 L863.16 460.00 L864.66 460.00 L866.15 460.00 L867.65 460.00 L869.11 460.32 L870.55 460.74 L871.99 461.16 L873.43 461.58 L874.87 462.00 L876.31 462.42 L877.75 462.84 L879.19 463.25 L880.65 463.60 L882.11 463.94 L883.57 464.27 L885.04 464.59 L886.51 464.90 L887.98 465.21 L889.45 465.50 L890.92 465.80 L892.39 466.08 L893.86 466.37 L895.33 466.65 L896.81 466.93 L898.28 467.21 L899.75 467.49 L901.23 467.78 L902.70 468.07 L904.17 468.36 L905.64 468.66 L907.11 468.97 L908.57 469.28 L910.04 469.61 L911.50 469.94 L912.96 470.27 L914.43 470.61 L915.89 470.95 L917.35 471.29 L918.81 471.63 L920.27 471.98 L921.72 472.33 L923.18 472.68 L924.64 473.04 L926.10 473.40 L927.55 473.76 L929.01 474.13 L930.46 474.49 L931.91 474.87 L933.37 475.24 L934.82 475.62 L936.27 476.00 L937.72 476.39 L939.17 476.77 L940.61 477.17 L942.06 477.56 L943.51 477.96 L944.95 478.35 L946.40 478.76 L947.84 479.16 L949.29 479.57 L950.73 479.98 L952.17 480.39 L953.61 480.81 L955.05 481.23 L956.49 481.66 L957.92 482.09 L959.36 482.53 L960.79 482.98 L962.22 483.43 L963.65 483.88 L965.08 484.34 L966.50 484.81 L967.92 485.29 L969.34 485.77 L970.76 486.27 L972.18 486.76 L973.59 487.27 L974.99 487.79 L976.40 488.31 L977.80 488.85 L979.20 489.39 L980.59 489.95 L981.98 490.51 L983.37 491.08 L984.75 491.66 L986.13 492.26 L987.50 492.86 L988.87 493.48 L990.23 494.11 L991.59 494.74 L992.95 495.38 L994.30 496.03 L995.65 496.69 L996.99 497.36 L998.32 498.04 L999.65 498.74 L1000.98 499.44 L1002.29 500.17 L1003.59 500.91 L1004.89 501.67 L1006.17 502.45 L1007.43 503.26 L1008.68 504.09 L1009.91 504.94 L1011.13 505.82 L1012.33 506.71 L1013.52 507.63 L1014.69 508.57 L1015.85 509.52 L1016.99 510.50 L1018.11 511.50 L1019.21 512.52 L1020.29 513.56 L1021.35 514.62 L1022.38 515.71 L1023.39 516.82 L1024.37 517.95 L1025.32 519.12 L1026.23 520.31 L1027.08 521.54 L1027.87 522.82 L1028.62 524.12 L1029.34 525.43 L1030.05 526.75 L1030.76 528.07 L1031.48 529.39 L1032.18 530.71 L1032.86 532.05 L1033.53 533.39 L1034.21 534.73 L1034.91 536.06 L1035.63 537.37 L1036.43 538.64 L1037.28 539.88 L1038.13 541.11 L1038.97 542.35 L1039.82 543.59 L1040.66 544.83 L1041.51 546.07 L1042.35 547.31 L1043.20 548.55 L1044.04 549.79 L1045.03 550.88 L1046.30 551.69 L1047.56 552.50 L1048.82 553.31 L1050.08 554.12 L1051.35 554.93 L1052.61 555.74 L1053.87 556.55 L1055.13 557.36 L1056.40 558.17 L1057.66 558.98 L1058.92 559.78 L1060.18 560.59 L1061.45 561.40 L1062.71 562.21 L1063.95 563.05 L1065.19 563.90 L1066.43 564.75 L1067.66 565.61 L1068.89 566.47 L1070.11 567.33 L1071.34 568.20 L1072.56 569.07 L1073.78 569.94 L1074.99 570.82 L1076.20 571.71 L1077.41 572.59 L1078.62 573.48 L1079.83 574.38 L1081.03 575.27 L1082.22 576.18 L1083.42 577.08 L1084.61 577.99 L1085.80 578.91 L1086.99 579.82 L1088.17 580.75 L1089.35 581.67 L1090.52 582.61 L1091.69 583.55 L1092.86 584.49 L1094.02 585.44 L1095.18 586.39 L1096.34 587.34 L1097.49 588.30 L1098.64 589.27 L1099.79 590.23 L1100.93 591.20 L1102.08 592.17 L1103.22 593.15 L1104.35 594.12 L1105.49 595.10 L1106.63 596.08 L1107.76 597.06 L1108.90 598.04 L1110.03 599.03 L1111.16 600.01 L1112.29 600.99 L1113.42 601.98 L1114.55 602.97 L1115.68 603.96 L1116.80 604.96 L1117.92 605.95 L1119.04 606.95 L1120.16 607.95 L1121.27 608.95 L1122.39 609.96 L1123.50 610.97 L1124.60 611.98 L1125.71 612.99 L1126.81 614.01 L1127.91 615.03 L1129.00 616.06 L1130.09 617.09 L1131.18 618.12 L1132.27 619.15 L1133.35 620.19 L1134.44 621.23 L1135.52 622.27 L1136.59 623.31 L1137.67 624.36 L1138.74 625.41 L1139.81 626.46 L1140.88 627.51 L1141.95 628.56 L1143.01 629.62 L1144.08 630.68 L1145.14 631.74 L1146.20 632.80 L1147.25 633.86 L1148.31 634.93 L1149.36 636.00 L1150.41 637.07 L1151.46 638.14 L1152.51 639.21 L1153.55 640.29 L1154.60 641.37 L1155.64 642.45 L1156.68 643.53 L1157.72 644.61 L1158.75 645.69 L1159.79 646.78 L1160.82 647.87 L1161.85 648.96 L1162.88 650.05 L1163.91 651.14 L1164.93 652.24 L1165.95 653.33 L1166.97 654.44 L1167.99 655.54 L1169.01 656.64 L1170.02 657.75 L1171.03 658.86 L1172.03 659.97 L1173.04 661.09 L1174.04 662.20 L1175.03 663.32 L1176.03 664.45 L1177.02 665.57 L1178.01 666.70 L1178.99 667.83 L1179.97 668.97 L1180.95 670.10 L1181.93 671.24 L1182.90 672.38 L1183.87 673.53 L1184.84 674.67 L1185.81 675.82 L1186.78 676.96 L1187.74 678.11 L1188.70 679.27 L1189.66 680.42 L1190.61 681.58 L1191.57 682.73 L1192.52 683.89 L1193.47 685.06 L1194.41 686.22 L1195.35 687.39 L1196.29 688.56 L1197.23 689.73 L1198.17 690.90 L1199.10 692.08 L1200.03 693.25 L1200.95 694.44 L1201.87 695.62 L1202.79 696.80 L1203.71 697.99 L1204.62 699.18 L1205.53 700.38 L1206.43 701.57 L1207.33 702.77 L1208.23 703.97 L1209.13 705.18 L1210.02 706.38 L1210.90 707.59 L1211.79 708.80 L1212.67 710.02 L1213.55 711.24 L1214.42 712.45 L1215.29 713.67 L1216.16 714.90 L1217.03 716.12 L1217.89 717.35 L1218.75 718.58 L1219.61 719.81 L1220.47 721.04 L1221.32 722.27 L1222.17 723.50 L1223.02 724.74 L1223.87 725.98 L1224.72 727.21 L1225.57 728.45 L1226.41 729.69 L1227.25 730.93 L1228.09 732.18 L1228.93 733.42 L1229.77 734.66 L1230.61 735.91 L1231.44 737.15 L1232.28 738.40 L1233.11 739.65 L1233.94 740.90 L1234.76 742.15 L1235.58 743.41 L1236.40 744.66 L1237.22 745.92 L1238.04 747.18 L1238.86 748.43 L1239.67 749.69 L1240.48 750.96 L1241.29 752.22 L1242.10 753.48 L1242.90 754.75 L1243.71 756.01 L1244.51 757.28 L1245.32 758.55 L1246.12 759.81 L1246.92 761.08 L1247.71 762.35 L1248.51 763.62 L1249.31 764.89 L1250.10 766.17 L1250.90 767.44 L1251.69 768.71 L1252.48 769.99 L1253.27 771.26 L1254.05 772.54 L1254.84 773.82 L1255.62 775.10 L1256.40 776.38 L1257.18 777.66 L1257.96 778.94 L1258.74 780.22 L1259.52 781.51 L1260.29 782.79 L1261.07 784.08 L1261.84 785.36 L1262.61 786.65 L1263.38 787.93 L1264.15 789.22 L1264.93 790.51 L1265.70 791.79 L1266.46 793.08 L1267.23 794.37 L1268.00 795.66 L1268.77 796.94 L1269.54 798.23 L1270.31 799.52 L1271.08 800.81 L1271.85 802.10 L1272.62 803.38 L1273.38 804.67 L1274.15 805.96 L1274.92 807.25 L1275.69 808.54 L1276.45 809.83 L1277.22 811.12 L1277.98 812.41 L1278.75 813.70 L1279.51 814.99 L1280.27 816.28 L1281.04 817.57 L1281.80 818.87 L1282.56 820.16 L1283.31 821.45 L1284.07 822.75 L1284.83 824.04 L1285.58 825.34 L1286.34 826.64 L1287.09 827.93 L1287.84 829.23 L1288.59 830.53 L1289.33 831.83 L1290.08 833.14 L1290.82 834.44 L1291.56 835.74 L1292.29 837.05 L1293.02 838.36 L1293.75 839.67 L1294.48 840.98 L1295.20 842.30 L1295.93 843.61 L1296.65 844.93 L1297.37 846.24 L1298.09 847.56 L1298.80 848.88 L1299.52 850.19 L1300.24 851.51 L1300.96 852.83 L1301.68 854.14 L1302.40 855.46 L1303.12 856.77 L1303.84 858.09 L1304.57 859.40 L1305.30 860.71 L1306.03 862.02 L1306.76 863.33 L1307.50 864.64 L1308.24 865.94 L1308.99 867.24 L1309.73 868.54 L1310.49 869.84 L1311.24 871.14 L1311.98 872.44 L1312.73 873.74 L1313.48 875.04 L1314.23 876.34 L1314.97 877.64 L1315.72 878.94 L1316.47 880.24 L1317.22 881.54 L1317.98 882.83 L1318.73 884.13 L1319.49 885.42 L1320.26 886.71 L1321.03 888.00 L1321.80 889.29 L1322.58 890.57 L1323.36 891.85 L1324.16 893.12 L1324.95 894.39 L1325.76 895.65 L1326.58 896.91 L1327.40 898.17 L1328.23 899.41 L1329.07 900.66 L1329.92 901.89 L1330.78 903.12 L1331.65 904.34 L1332.52 905.56 L1333.40 906.78 L1334.29 907.99 L1335.18 909.20 L1336.08 910.40 L1336.99 911.59 L1337.90 912.78 L1338.82 913.96 L1339.75 915.14 L1340.69 916.31 L1341.64 917.47 L1342.59 918.63 L1343.55 919.78 L1344.53 920.92 L1345.51 922.06 L1346.50 923.18 L1347.50 924.30 L1348.51 925.41 L1349.53 926.50 L1350.56 927.59 L1351.61 928.67 L1352.66 929.74 L1353.72 930.80 L1354.79 931.86 L1355.87 932.90 L1356.95 933.93 L1358.05 934.95 L1359.16 935.97 L1360.27 936.97 L1361.39 937.96 L1362.53 938.95 L1363.67 939.92 L1364.82 940.88 L1365.98 941.84 L1367.15 942.78 L1368.32 943.71 L1369.51 944.62 L1370.70 945.53 L1371.91 946.42 L1373.12 947.30 L1374.35 948.17 L1375.58 949.03 L1376.82 949.87 L1378.06 950.71 L1379.32 951.53 L1380.58 952.34 L1381.85 953.14 L1383.12 953.94 L1384.40 954.72 L1385.68 955.49 L1386.98 956.26 L1388.27 957.01 L1389.57 957.76 L1390.88 958.49 L1392.19 959.22 L1393.51 959.94 L1394.83 960.65 L1396.16 961.35 L1397.49 962.03 L1398.83 962.71 L1400.17 963.38 L1401.51 964.05 L1402.86 964.70 L1404.22 965.35 L1405.58 965.98 L1406.94 966.61 L1408.30 967.24 L1409.67 967.85 L1411.04 968.46 L1412.41 969.06 L1413.79 969.66 L1415.17 970.25 L1416.55 970.84 L1417.93 971.41 L1419.32 971.98 L1420.71 972.54 L1422.11 973.09 L1423.51 973.63 L1424.91 974.17 L1426.31 974.69 L1427.72 975.20 L1429.14 975.70 L1430.56 976.19 L1431.98 976.67 L1433.40 977.14 L1434.83 977.60 L1436.26 978.06 L1437.69 978.50 L1439.12 978.94 L1440.56 979.37 L1442.00 979.80 L1443.44 980.21 L1444.89 980.62 L1446.33 981.02 L1447.78 981.41 L1449.23 981.80 L1450.68 982.18 L1452.13 982.55 L1453.59 982.91 L1455.05 983.26 L1456.50 983.61 L1457.97 983.95 L1459.43 984.29 L1460.89 984.62 L1462.35 984.94 L1463.82 985.27 L1465.28 985.59 L1466.75 985.90 L1468.22 986.22 L1469.68 986.53 L1471.15 986.84 L1472.62 987.15 L1474.09 987.45 L1475.56 987.75 L1477.03 988.05 L1478.50 988.34 L1479.97 988.63 L1481.44 988.92 L1482.92 989.21 L1484.39 989.49 L1485.86 989.78 L1487.33 990.07 L1488.80 990.36 L1490.27 990.65 L1491.74 990.94 L1493.22 991.23 L1494.69 991.51 L1496.16 991.79 L1497.64 992.07 L1499.11 992.36 L1500.58 992.64 L1502.06 992.93 L1503.53 993.22 L1505.00 993.52 L1506.47 993.82 L1507.93 994.14 L1509.40 994.46 L1510.86 994.80 L1512.32 995.14 L1513.78 995.48 L1515.24 995.83 L1516.69 996.19 L1518.15 996.56 L1519.60 996.93 L1521.05 997.32 L1522.50 997.71 L1523.94 998.12 L1525.38 998.54 L1526.82 998.97 L1528.25 999.42 L1529.67 999.89 L1531.09 1000.37 L1532.50 1000.88 L1533.91 1001.40 L1535.31 1001.95 L1536.69 1002.52 L1538.07 1003.11 L1539.44 1003.72 L1540.80 1004.36 L1542.14 1005.03 L1543.47 1005.72 L1544.79 1006.44 L1546.09 1007.18 L1547.37 1007.96 L1548.64 1008.77 L1549.88 1009.62 L1551.08 1010.50 L1552.26 1011.44 L1553.39 1012.42 L1554.47 1013.46 L1555.49 1014.56 L1556.47 1015.69 L1557.40 1016.87 L1558.27 1018.09 L1559.08 1019.36 L1559.82 1020.66 L1560.50 1022.00 L1561.16 1023.34 L1561.77 1024.72 L1562.30 1026.12 L1562.73 1027.55 L1563.00 1029.03 L1563.18 1030.52 L1563.33 1032.01 L1563.45 1033.51 L1563.54 1035.00 L1563.59 1036.50 L1563.61 1038.00 L1563.63 1039.50 L1563.65 1041.00 L1563.67 1042.50 L1563.68 1044.00 L1563.69 1045.50 L1563.69 1047.00 L1563.70 1048.50 L1563.70 1050.00"/>
<path stroke="#d62728" d="M350.90 120.00 L350.94 121.54 L350.98 123.08 L351.02 124.62 L351.07 126.16 L351.12 127.70 L351.17 129.24 L351.23 130.77 L351.29 132.31 L351.36 133.85 L351.44 135.39 L351.54 136.93 L351.64 138.46 L351.74 140.00 M352.30 150.00 L352.34 151.49 L352.37 152.97 L352.40 154.46 L352.43 155.95 L352.46 157.44 L352.48 158.92 L352.50 160.41 L352.52 161.90 L352.54 163.39 L352.55 164.87 L352.57 166.36 L352.59 167.85 L352.61 169.34 L352.63 170.83 L352.65 172.31 L352.67 173.80 L352.70 175.29 L352.73 176.78 L352.76 178.26 L352.79 179.75 M353.21 190.27 L353.29 191.75 L353.37 193.23 L353.46 194.71 L353.55 196.19 L353.63 197.67 L353.72 199.15 L353.81 200.63 L353.91 202.11 L354.00 203.59 L354.09 205.07 L354.18 206.55 L354.27 208.03 L354.36 209.50 L354.46 210.98 L354.56 212.46 L354.66 213.94 L354.77 215.42 L354.88 216.90 L354.98 218.37 L355.09 219.85 M355.91 230.39 L356.02 231.87 L356.14 233.36 L356.26 234.85 L356.37 236.34 L356.49 237.82 L356.60 239.31 L356.72 240.80 L356.84 242.29 L356.97 243.77 L357.12 245.26 L357.27 246.74 L357.42 248.23 L357.59 249.71 L357.76 251.19 L357.93 252.68 L358.11 254.16 L358.30 255.64 L358.49 257.12 L358.68 258.60 L358.88 260.08 M360.33 270.04 L360.55 271.53 L360.78 273.01 L361.01 274.50 L361.24 275.99 L361.48 277.47 L361.71 278.96 L361.95 280.45 L362.18 281.93 L362.42 283.42 L362.65 284.91 L362.89 286.39 L363.14 287.88 L363.40 289.36 L363.66 290.84 L363.93 292.32 L364.20 293.80 L364.47 295.28 L364.75 296.76 L365.03 298.24 L365.31 299.72"/>
<path stroke="#1f77b4" d="M352.30 120.00 L352.31 121.49 L352.35 122.99 L352.39 124.48 L352.45 125.97 L352.52 127.46 L352.60 128.95 L352.68 130.44 L352.77 131.93 L352.86 133.42 L352.98 134.91 L353.13 136.40 L353.30 137.88 L353.47 139.36 L353.66 140.84 L353.84 142.32 L354.03 143.81 L354.23 145.28 L354.45 146.76 L354.67 148.24 L354.90 149.71 L355.14 151.19 L355.39 152.66 L355.64 154.13 L355.90 155.60 M357.90 165.20 L358.24 166.68 L358.58 168.16 L358.92 169.64 L359.29 171.11 L359.68 172.58 L360.12 174.04 L360.60 175.48 L361.13 176.90 L361.70 178.31 L362.33 179.69 L363.00 181.05 L363.73 182.38 L364.53 183.68 L365.39 184.93 L366.35 186.11 L367.39 187.21 L368.51 188.24 L369.69 189.19 L370.92 190.08 L372.20 190.90 M382.20 195.10 L383.65 195.41 L385.11 195.68 L386.57 195.93 L388.04 196.14 L389.52 196.33 L390.99 196.50 L392.47 196.64 L393.95 196.78 L395.42 196.91 L396.90 197.02 L398.39 197.13 L399.87 197.22 L401.35 197.30 L402.83 197.36 L404.32 197.41 L405.80 197.44 L407.28 197.47 L408.77 197.51 L410.25 197.53 L411.74 197.56 L413.22 197.58 L414.70 197.61 L416.19 197.63 L417.67 197.65 L419.16 197.67 L420.64 197.68 L422.13 197.70 L423.61 197.71 L425.09 197.73 L426.58 197.74 L428.06 197.75 L429.55 197.77 L431.03 197.78 L432.52 197.79 L434.00 197.80 M444.00 197.87 L445.50 197.88 L447.00 197.89 L448.50 197.90 L450.00 197.91 L451.50 197.92 L453.00 197.93 L454.50 197.94 L456.00 197.95 L457.50 197.95 L459.00 197.96 L460.50 197.97 L462.00 197.98 L463.50 197.99 L465.00 198.00 L466.50 198.00 L468.00 198.01 L469.50 198.02 L471.00 198.03 L472.50 198.03 L474.00 198.04 M484.00 198.09 L485.50 198.09 L487.00 198.10 L488.50 198.10 L490.00 198.11 L491.50 198.12 L493.00 198.12 L494.50 198.13 L496.00 198.13 L497.50 198.14 L499.00 198.15 L500.50 198.15 L502.00 198.16 L503.50 198.16 L505.00 198.17 L506.50 198.17 L508.00 198.18 L509.50 198.19 L511.00 198.19 L512.50 198.20 L514.00 198.20 M524.00 198.24 L525.50 198.24 L527.00 198.25 L528.50 198.25 L530.00 198.26 L531.50 198.26 L533.00 198.27 L534.50 198.27 L536.00 198.28 L537.50 198.28 L539.00 198.29 L540.50 198.29 L542.00 198.30 L543.50 198.31 L545.00 198.31 L546.50 198.32 L548.00 198.32 L549.50 198.33 L551.00 198.33 L552.50 198.34 L554.00 198.34 M564.00 198.39 L565.50 198.39 L567.00 198.40 L568.50 198.41 L570.00 198.41 L571.50 198.42 L573.00 198.43 L574.50 198.43 L576.00 198.44 L577.50 198.45 L579.00 198.45 L580.50 198.46 L582.00 198.47 L583.50 198.48 L585.00 198.49 L586.50 198.49 L588.00 198.50 L589.50 198.51 L591.00 198.52 L592.50 198.52 L594.00 198.53 M604.00 198.58 L605.50 198.59 L607.00 198.60 L608.50 198.61 L610.00 198.62 L611.50 198.63 L613.00 198.63 L614.50 198.64 L616.00 198.65 L617.50 198.66 L619.00 198.67 L620.50 198.67 L622.00 198.68 L623.50 198.69 L625.00 198.70 L626.50 198.71 L628.00 198.71 L629.50 198.72 L631.00 198.73 L632.50 198.74 L634.00 198.75 M644.00 198.80 L645.50 198.81 L647.00 198.82 L648.50 198.82 L650.00 198.83 L651.50 198.84 L653.00 198.85 L654.50 198.85 L656.00 198.86 L657.50 198.87 L659.00 198.88 L660.50 198.89 L662.00 198.89 L663.50 198.90 L665.00 198.91 L666.50 198.92 L668.00 198.92 L669.50 198.93 L671.00 198.94 L672.50 198.95 L674.00 198.96 M684.00 199.01 L685.50 199.02 L687.00 199.02 L688.50 199.03 L690.00 199.04 L691.50 199.05 L693.00 199.05 L694.50 199.06 L696.00 199.07 L697.50 199.08 L699.00 199.09 L700.50 199.09 L702.00 199.10 L703.50 199.11 L705.00 199.12 L706.50 199.12 L708.00 199.13 L709.50 199.14 L711.00 199.15 L712.50 199.15 L714.00 199.16 M724.00 199.21 L725.50 199.22 L727.00 199.23 L728.50 199.24 L730.00 199.24 L731.50 199.25 L733.00 199.26 L734.50 199.27 L736.00 199.27 L737.50 199.28 L739.00 199.29 L740.50 199.30 L742.00 199.31 L743.50 199.31 L745.00 199.32 L746.50 199.33 L748.00 199.34 L749.50 199.34 L751.00 199.35 L752.50 199.36 L754.00 199.37 M764.00 199.42 L765.50 199.43 L767.00 199.43 L768.50 199.44 L770.00 199.45 L771.50 199.46 L773.00 199.46 L774.50 199.47 L776.00 199.48 L777.50 199.49 L779.00 199.49 L780.50 199.50 L782.00 199.51 L783.50 199.52 L785.00 199.52 L786.50 199.53 L788.00 199.54 L789.50 199.55 L791.00 199.55 L792.50 199.56 L794.00 199.57 M804.00 199.62 L805.50 199.63 L807.00 199.64 L808.50 199.64 L810.00 199.65 L811.50 199.66 L813.00 199.66 L814.50 199.67 L816.00 199.68 L817.50 199.69 L819.00 199.69 L820.50 199.70 L822.00 199.71 L823.50 199.72 L825.00 199.72 L826.50 199.73 L828.00 199.74 L829.50 199.75 L831.00 199.75 L832.50 199.76 L834.00 199.77 M844.00 199.82 L845.50 199.82 L847.00 199.83 L848.50 199.84 L850.00 199.84 L851.50 199.85 L853.00 199.86 L854.50 199.87 L856.00 199.87 L857.50 199.88 L859.00 199.89 L860.50 199.90 L862.00 199.90 L863.50 199.91 L865.00 199.92 L866.50 199.93 L868.00 199.93 L869.50 199.94 L871.00 199.95 L872.50 199.96 L874.00 199.97 M884.00 200.02 L885.50 200.03 L887.00 200.03 L888.50 200.04 L890.00 200.05 L891.50 200.06 L893.00 200.07 L894.50 200.07 L896.00 200.08 L897.50 200.09 L899.00 200.10 L900.50 200.10 L902.00 200.11 L903.50 200.12 L905.00 200.13 L906.50 200.13 L908.00 200.14 L909.50 200.15 L911.00 200.16 L912.50 200.17 L914.00 200.18 M924.00 200.25 L925.50 200.26 L927.00 200.28 L928.50 200.30 L930.00 200.32 L931.50 200.35 L933.00 200.37 L934.50 200.40 L936.00 200.43 L937.50 200.46 L939.00 200.49 L940.50 200.52 L942.00 200.56 L943.50 200.59 L945.00 200.62"/>
<path stroke="#ff7f0e" d="M353.00 120.00 L353.00 121.52 L353.00 123.05 L353.01 124.57 L353.01 126.10 L353.02 127.62 L353.03 129.15 L353.04 130.67 L353.06 132.20 L353.07 133.72 L353.09 135.24 L353.11 136.77 L353.13 138.29 L353.16 139.82 L353.18 141.34 L353.21 142.87 L353.24 144.39 L353.27 145.91 L353.32 147.44 L353.44 148.96 L353.65 150.47 L353.91 151.97 L354.19 153.47 L354.47 154.96 L354.72 156.47 L354.93 157.98 L355.12 159.49 M356.37 170.22 L356.52 171.68 L356.68 173.14 L356.84 174.60 L357.01 176.06 L357.17 177.51 L357.34 178.97 L357.51 180.43 L357.68 181.89 L357.86 183.34 L358.05 184.80 L358.24 186.25 L358.43 187.71 L358.62 189.16 L358.82 190.61 L359.02 192.07 L359.22 193.52 L359.43 194.97 L359.64 196.42 L359.85 197.88 L360.07 199.33 M361.78 209.24 L362.06 210.68 L362.35 212.12 L362.65 213.56 L362.96 214.99 L363.27 216.42 L363.60 217.85 L363.93 219.28 L364.27 220.71 L364.62 222.13 L364.97 223.56 L365.32 224.98 L365.68 226.41 L366.06 227.82 L366.45 229.24 L366.87 230.64 L367.31 232.04 L367.77 233.43 L368.28 234.81 L368.82 236.18 L369.43 237.51 M375.90 247.10 L377.00 248.14 L378.16 249.11 L379.35 250.03 L380.56 250.95 L381.78 251.85 L383.01 252.72 L384.26 253.57 L385.52 254.41 L386.78 255.25 L388.05 256.07 L389.34 256.84 L390.68 257.56 L392.03 258.24 L393.42 258.82 L394.88 259.24 L396.35 259.56 L397.86 259.72 L399.37 259.79 L400.88 259.84 L402.39 259.87 L403.90 259.90 L405.41 259.92 L406.92 259.95 L408.44 259.97 L409.95 259.99 L411.46 260.02 L412.97 260.04 L414.48 260.06 L416.00 260.08 M425.99 260.22 L427.49 260.24 L428.99 260.26 L430.49 260.28 L431.99 260.30 L433.49 260.32 L434.99 260.34 L436.49 260.36 L437.99 260.38 L439.49 260.39 L440.99 260.41 L442.49 260.43 L443.99 260.45 L445.49 260.46 L446.99 260.48 L448.49 260.50 L449.99 260.51 L451.49 260.53 L452.99 260.55 L454.49 260.56 L455.99 260.58 M465.99 260.67 L467.49 260.69 L468.99 260.70 L470.49 260.72 L471.99 260.73 L473.49 260.74 L474.99 260.76 L476.49 260.77 L477.99 260.78 L479.49 260.79 L480.99 260.81 L482.49 260.82 L483.99 260.83 L485.49 260.84 L486.99 260.85 L488.49 260.87 L489.99 260.88 L491.49 260.89 L492.99 260.90 L494.49 260.91 L495.99 260.92 M505.99 260.99 L507.49 261.01 L508.99 261.02 L510.49 261.03 L511.99 261.04 L513.49 261.05 L514.99 261.06 L516.49 261.06 L517.99 261.07 L519.49 261.08 L520.99 261.09 L522.49 261.10 L523.99 261.11 L525.49 261.12 L526.99 261.13 L528.49 261.14 L529.99 261.15 L531.49 261.16 L532.99 261.17 L534.49 261.18 L535.99 261.19 M545.99 261.25 L547.49 261.25 L548.99 261.26 L550.49 261.27 L551.99 261.28 L553.49 261.29 L554.99 261.30 L556.49 261.31 L557.99 261.32 L559.50 261.32 L561.00 261.33 L562.50 261.34 L564.00 261.35 L565.50 261.36 L567.00 261.37 L568.50 261.38 L570.00 261.39 L571.50 261.40 L573.00 261.41 L574.50 261.41 L576.00 261.42 M586.00 261.49 L587.50 261.50 L589.00 261.51 L590.50 261.51 L592.00 261.52 L593.50 261.53 L595.00 261.54 L596.50 261.55 L598.00 261.57 L599.50 261.58 L601.00 261.59 L602.50 261.60 L604.00 261.61 L605.50 261.62 L607.00 261.63 L608.50 261.64 L610.00 261.65 L611.50 261.66 L613.00 261.67 L614.50 261.68 L616.00 261.70 M626.00 261.78 L627.50 261.79 L629.00 261.80 L630.50 261.81 L632.00 261.83 L633.50 261.84 L635.00 261.85 L636.50 261.87 L638.00 261.88 L639.50 261.90 L641.00 261.91 L642.50 261.92 L644.00 261.94 L645.50 261.95 L647.00 261.97 L648.50 261.98 L650.00 261.99 L651.50 262.01 L653.00 262.02 L654.50 262.04 L656.00 262.05 M666.00 262.15 L667.50 262.16 L669.00 262.18 L670.50 262.19 L672.00 262.21 L673.50 262.22 L675.00 262.24 L676.50 262.25 L678.00 262.27 L679.50 262.28 L681.00 262.30 L682.50 262.31 L684.00 262.33 L685.50 262.34 L687.00 262.36 L688.50 262.37 L690.00 262.39 L691.50 262.40 L693.00 262.42 L694.50 262.43 L696.00 262.45 M706.00 262.55 L707.50 262.56 L709.00 262.58 L710.50 262.60 L712.00 262.61 L713.50 262.63 L715.00 262.64 L716.50 262.66 L718.00 262.67 L719.50 262.69 L721.00 262.70 L722.50 262.72 L724.00 262.74 L725.50 262.75 L727.00 262.77 L728.50 262.78 L730.00 262.80 L731.50 262.81 L733.00 262.83 L734.50 262.85 L736.00 262.86 M746.00 262.97 L747.50 262.98 L749.00 263.00 L750.50 263.01 L752.00 263.03 L753.50 263.05 L755.00 263.06 L756.50 263.08 L758.00 263.10 L759.50 263.11 L761.00 263.13 L762.50 263.14 L764.00 263.16 L765.50 263.18 L767.00 263.19 L768.50 263.21 L770.00 263.22 L771.50 263.24 L773.00 263.26 L774.50 263.27 L776.00 263.29 M786.00 263.40 L787.50 263.42 L789.00 263.43 L790.50 263.45 L792.00 263.46 L793.50 263.48 L795.00 263.50 L796.50 263.51 L798.00 263.53 L799.50 263.55 L801.00 263.56 L802.50 263.58 L804.00 263.60 L805.50 263.61 L807.00 263.63 L808.50 263.65 L810.00 263.66 L811.50 263.68 L813.00 263.70 L814.50 263.71 L816.00 263.73 M826.00 263.84 L827.50 263.86 L829.00 263.88 L830.50 263.89 L832.00 263.91 L833.50 263.93 L835.00 263.94 L836.50 263.96 L838.00 263.98 L839.50 263.99 L841.00 264.01 L842.50 264.03 L844.00 264.05 L845.50 264.06 L847.00 264.08 L848.50 264.10 L850.00 264.12 L851.50 264.13 L853.00 264.15 L854.50 264.17 L856.00 264.19 M866.00 264.31 L867.53 264.33 L869.06 264.35 L870.59 264.37 L872.12 264.38 L873.65 264.40 L875.18 264.42 L876.71 264.44 L878.24 264.46 L879.76 264.48 L881.29 264.50 L882.82 264.52 L884.35 264.54 L885.88 264.56 L887.41 264.58 L888.94 264.60 L890.47 264.62 L892.00 264.64"/>
<path stroke="#2ca02c" d="M351.60 120.00 L351.62 121.48 L351.64 122.95 L351.67 124.43 L351.71 125.90 L351.75 127.38 L351.79 128.85 L351.84 130.33 L351.89 131.80 L351.95 133.28 L352.00 134.75 L352.06 136.23 L352.13 137.70 L352.20 139.18 L352.28 140.65 L352.37 142.12 M353.19 152.16 L353.33 153.63 L353.47 155.11 L353.62 156.58 L353.76 158.06 L353.91 159.53 L354.05 161.01 L354.20 162.48 L354.34 163.95 L354.48 165.43 L354.62 166.90 L354.76 168.38 L354.89 169.85 L355.04 171.33 L355.18 172.80 L355.32 174.28 L355.47 175.75 L355.62 177.23 L355.77 178.70 L355.92 180.17 L356.07 181.65 M357.13 191.86 L357.29 193.33 L357.44 194.80 L357.59 196.28 L357.74 197.75 L357.89 199.23 L358.04 200.70 L358.19 202.17 L358.34 203.65 L358.49 205.12 L358.63 206.60 L358.77 208.07 L358.91 209.55 L359.04 211.02 L359.17 212.50 L359.30 213.98 L359.43 215.45 L359.56 216.93 L359.68 218.41 L359.81 219.88 L359.93 221.36 M360.84 231.39 L360.99 232.91 L361.15 234.43 L361.31 235.95 L361.48 237.46 L361.65 238.98 L361.83 240.49 L362.03 242.01 L362.23 243.52 L362.44 245.03 L362.66 246.54 L362.89 248.05 L363.12 249.56 L363.36 251.06 L363.60 252.57 L363.85 254.07 L364.10 255.58 L364.36 257.08 L364.61 258.59 L364.87 260.09 M366.77 270.24 L367.09 271.71 L367.43 273.18 L367.79 274.65 L368.16 276.11 L368.56 277.57 L368.96 279.02 L369.39 280.47 L369.82 281.91 L370.27 283.35 L370.73 284.79 L371.21 286.22 L371.69 287.65 L372.20 289.07 L372.73 290.48 L373.27 291.89 L373.83 293.29 L374.40 294.68 L374.99 296.07 L375.60 297.46 L376.21 298.83 L376.85 300.20 M381.88 308.42 L382.86 309.56 L383.89 310.66 L384.96 311.72 L386.06 312.75 L387.17 313.76 L388.28 314.78 L389.38 315.80 L390.46 316.85 L391.52 317.92 L392.57 319.00 L393.63 320.07 L394.70 321.13 L395.79 322.16 L396.93 323.14 L398.20 323.89 L399.70 323.98 L401.20 324.01 L402.71 324.03 L404.21 324.05 L405.72 324.06 L407.22 324.07 L408.73 324.09 M419.00 324.21 L420.50 324.23 L422.00 324.25 L423.50 324.27 L425.00 324.28 L426.50 324.30 L428.00 324.32 L429.50 324.34 L431.00 324.36 L432.50 324.37 L434.00 324.39 L435.50 324.41 L437.00 324.43 L438.50 324.45 L440.00 324.46 L441.50 324.48 L443.00 324.50 L444.50 324.52 L446.00 324.54 L447.50 324.55 L449.00 324.57 M459.00 324.69 L460.50 324.70 L462.00 324.72 L463.50 324.74 L465.00 324.76 L466.50 324.77 L468.00 324.79 L469.50 324.81 L471.00 324.83 L472.50 324.84 L474.00 324.86 L475.50 324.88 L477.00 324.89 L478.50 324.91 L480.00 324.93 L481.50 324.94 L483.00 324.96 L484.50 324.98 L486.00 325.00 L487.50 325.01 L489.00 325.03 M499.00 325.14 L500.50 325.16 L502.00 325.17 L503.50 325.19 L505.00 325.21 L506.50 325.22 L508.00 325.24 L509.50 325.26 L511.00 325.27 L512.50 325.29 L514.00 325.30 L515.50 325.32 L517.00 325.34 L518.50 325.35 L520.00 325.37 L521.50 325.39 L523.00 325.40 L524.50 325.42 L526.00 325.43 L527.50 325.45 L529.00 325.47 M539.00 325.57 L540.50 325.59 L542.00 325.60 L543.50 325.62 L545.00 325.64 L546.50 325.65 L548.00 325.67 L549.50 325.68 L551.00 325.70 L552.50 325.72 L554.00 325.73 L555.50 325.75 L557.00 325.76 L558.50 325.78 L560.00 325.79 L561.50 325.81 L563.00 325.82 L564.50 325.84 L566.00 325.86 L567.50 325.87 L569.00 325.89 M579.00 325.99 L580.50 326.00 L582.00 326.02 L583.50 326.04 L585.00 326.05 L586.50 326.07 L588.00 326.08 L589.50 326.10 L591.00 326.11 L592.50 326.13 L594.00 326.14 L595.50 326.16 L597.00 326.17 L598.50 326.19 L600.00 326.20 L601.50 326.22 L603.00 326.23 L604.50 326.25 L606.00 326.26 L607.50 326.28 L609.00 326.29 M619.00 326.39 L620.50 326.41 L622.00 326.42 L623.50 326.44 L625.00 326.45 L626.50 326.47 L628.00 326.48 L629.50 326.50 L631.00 326.51 L632.50 326.53 L634.00 326.54 L635.50 326.56 L637.00 326.57 L638.50 326.59 L640.00 326.60 L641.50 326.61 L643.00 326.63 L644.50 326.64 L646.00 326.66 L647.50 326.67 L649.00 326.69 M659.00 326.78 L660.50 326.80 L662.00 326.81 L663.50 326.82 L665.00 326.84 L666.50 326.85 L668.00 326.87 L669.50 326.88 L671.00 326.89 L672.50 326.91 L674.00 326.92 L675.50 326.93 L677.00 326.95 L678.50 326.96 L680.00 326.97 L681.50 326.99 L683.00 327.00 L684.50 327.01 L686.00 327.03 L687.50 327.04 L689.00 327.05 M699.00 327.14 L700.50 327.15 L702.00 327.17 L703.50 327.18 L705.00 327.19 L706.50 327.21 L708.00 327.22 L709.50 327.23 L711.00 327.24 L712.50 327.26 L714.00 327.27 L715.50 327.28 L717.00 327.30 L718.50 327.31 L720.00 327.32 L721.50 327.33 L723.00 327.35 L724.50 327.36 L726.00 327.37 L727.50 327.39 L729.00 327.40 M739.00 327.48 L740.50 327.50 L742.00 327.51 L743.50 327.52 L745.00 327.53 L746.50 327.55 L748.00 327.56 L749.50 327.57 L751.00 327.59 L752.50 327.60 L754.00 327.61 L755.50 327.62 L757.00 327.64 L758.50 327.65 L760.00 327.66 L761.50 327.68 L763.00 327.69 L764.50 327.70 L766.00 327.71 L767.50 327.73 L769.00 327.74 M779.00 327.83 L780.50 327.84 L782.00 327.85 L783.50 327.87 L785.00 327.88 L786.50 327.89 L788.00 327.91 L789.50 327.92 L791.00 327.93 L792.50 327.95 L794.00 327.96 L795.50 327.97 L797.00 327.99 L798.50 328.00 L800.00 328.02 L801.50 328.03 L803.00 328.04 L804.50 328.06 L806.00 328.07 L807.50 328.08 L809.00 328.10 M819.00 328.19 L820.50 328.21 L822.00 328.22 L823.50 328.24 L825.00 328.25 L826.50 328.27 L828.00 328.28 L829.50 328.30 L831.00 328.31 L832.50 328.32 L834.00 328.34 L835.50 328.35 L837.00 328.37 L838.50 328.38 L840.00 328.40 L841.50 328.42 L843.00 328.43 L844.50 328.45 L846.00 328.46 L847.50 328.48 L849.00 328.49 M859.00 328.59 L860.50 328.61 L862.00 328.62 L863.50 328.64 L865.00 328.65 L866.50 328.67 L868.00 328.69 L869.50 328.70 L871.00 328.72 L872.50 328.73 L874.00 328.75 L875.50 328.76 L877.00 328.78 L878.50 328.79 L880.00 328.81 L881.50 328.83 L883.00 328.84 L884.50 328.86 L886.00 328.87 L887.50 328.89 L889.00 328.90 M899.00 329.01 L900.50 329.03 L902.00 329.04 L903.50 329.06 L905.00 329.07 L906.50 329.09 L908.00 329.11 L909.50 329.12 L911.00 329.14 L912.50 329.16 L914.00 329.17 L915.50 329.19 L917.00 329.20 L918.50 329.22 L920.00 329.24 L921.50 329.25 L923.00 329.27 L924.50 329.29 L926.00 329.30 L927.50 329.32 L929.00 329.34 M939.00 329.45 L940.50 329.47 L942.00 329.49 L943.50 329.50 L945.00 329.52 L946.50 329.54 L948.00 329.56 L949.50 329.58 L951.00 329.59 L952.50 329.61 L954.00 329.63 L955.50 329.65 L957.00 329.67 L958.50 329.68 L960.00 329.70 L961.50 329.72 L963.00 329.74 L964.50 329.76 L966.00 329.78 L967.50 329.79 L969.00 329.81 M979.00 329.94 L980.50 329.96 L982.00 329.98 L983.50 330.00 L985.00 330.02 L986.50 330.04 L988.00 330.06 L989.50 330.08 L991.00 330.10 L992.50 330.12 L994.00 330.14 L995.50 330.16 L997.00 330.18 L998.50 330.20 L1000.00 330.22 L1001.50 330.24 L1003.00 330.26"/>
</g>
<g stroke="#000" stroke-width="3.33" fill="none">
<line x1="491.4" y1="1037.3" x2="491.4" y2="1052.5"/>
<line x1="848.5" y1="1037.3" x2="848.5" y2="1052.5"/>
<line x1="1206.5" y1="1037.3" x2="1206.5" y2="1052.5"/>
<line x1="1564.5" y1="1037.3" x2="1564.5" y2="1052.5"/>
<line x1="312.6" y1="325.5" x2="297.4" y2="325.5"/>
<line x1="312.6" y1="649.5" x2="297.4" y2="649.5"/>
<line x1="312.6" y1="972.5" x2="297.4" y2="972.5"/>
<rect x="312.6" y="131.4" width="1395.0" height="905.9" stroke-linejoin="miter"/>
</g>
<text><tspan x="122.64" y="358.33" font-size="76.00" textLength="67.51" lengthAdjust="spacingAndGlyphs">−</tspan><tspan x="192.31" y="356.85" font-size="93.10" stroke="#fff" stroke-width="1.00" textLength="40.05" lengthAdjust="spacingAndGlyphs">1</tspan><tspan x="233.37" y="356.85" font-size="93.10" stroke="#fff" stroke-width="1.00" textLength="43.06" lengthAdjust="spacingAndGlyphs">0</tspan></text>
<text><tspan x="122.64" y="682.33" font-size="76.00" textLength="67.51" lengthAdjust="spacingAndGlyphs">−</tspan><tspan x="192.31" y="680.85" font-size="93.10" stroke="#fff" stroke-width="1.00" textLength="40.05" lengthAdjust="spacingAndGlyphs">1</tspan><tspan x="232.16" y="680.85" font-size="93.10" stroke="#fff" stroke-width="1.00" textLength="43.81" lengthAdjust="spacingAndGlyphs">5</tspan></text>
<text><tspan x="122.64" y="1005.33" font-size="76.00" textLength="67.51" lengthAdjust="spacingAndGlyphs">−</tspan><tspan x="191.14" y="1003.85" font-size="93.10" stroke="#fff" stroke-width="1.00" textLength="44.53" lengthAdjust="spacingAndGlyphs">2</tspan><tspan x="233.37" y="1003.85" font-size="93.10" stroke="#fff" stroke-width="1.00" textLength="43.06" lengthAdjust="spacingAndGlyphs">0</tspan></text>
<text><tspan x="407.32" y="1131.53" font-size="76.00" textLength="67.75" lengthAdjust="spacingAndGlyphs">−</tspan><tspan x="475.94" y="1129.45" font-size="93.10" stroke="#fff" stroke-width="1.00" textLength="42.01" lengthAdjust="spacingAndGlyphs">6</tspan><tspan x="518.57" y="1129.45" font-size="93.10" stroke="#fff" stroke-width="1.00" textLength="43.06" lengthAdjust="spacingAndGlyphs">0</tspan></text>
<text><tspan x="765.43" y="1131.53" font-size="76.00" textLength="67.63" lengthAdjust="spacingAndGlyphs">−</tspan><tspan x="834.50" y="1129.45" font-size="93.10" stroke="#fff" stroke-width="1.00" textLength="42.27" lengthAdjust="spacingAndGlyphs">4</tspan><tspan x="876.34" y="1129.45" font-size="93.10" stroke="#fff" stroke-width="1.00" textLength="43.41" lengthAdjust="spacingAndGlyphs">0</tspan></text>
<text><tspan x="1123.42" y="1131.53" font-size="76.00" textLength="67.75" lengthAdjust="spacingAndGlyphs">−</tspan><tspan x="1191.91" y="1129.45" font-size="93.10" stroke="#fff" stroke-width="1.00" textLength="44.78" lengthAdjust="spacingAndGlyphs">2</tspan><tspan x="1234.26" y="1129.45" font-size="93.10" stroke="#fff" stroke-width="1.00" textLength="43.18" lengthAdjust="spacingAndGlyphs">0</tspan></text>
<text><tspan x="1539.04" y="1129.45" font-size="93.10" stroke="#fff" stroke-width="1.00" textLength="43.41" lengthAdjust="spacingAndGlyphs">0</tspan></text>
<text><tspan x="920.30" y="1227.40" font-size="96.00" stroke="#fff" stroke-width="1.10" textLength="64.61" lengthAdjust="spacingAndGlyphs">V</tspan><tspan x="988.67" y="1229.80" font-size="101.00" stroke="#fff" stroke-width="0.80" textLength="15.95" lengthAdjust="spacingAndGlyphs">,</tspan><tspan x="1005.00" y="1226.90" font-size="94.60"> </tspan><tspan x="1034.40" y="1227.40" font-size="96.00" stroke="#fff" stroke-width="1.10" textLength="64.30" lengthAdjust="spacingAndGlyphs">V</tspan></text>
<text transform="translate(88.9,700.0) rotate(-90)"><tspan x="8.25" y="0.00" font-size="96.70" font-weight="bold" textLength="22.00" lengthAdjust="spacingAndGlyphs">l</tspan><tspan x="33.08" y="0.00" font-size="88.00" stroke="#000" stroke-width="2.4" stroke-linejoin="round" textLength="45.66" lengthAdjust="spacingAndGlyphs">g</tspan><tspan x="85.35" y="-0.90" font-size="95.20" stroke="#000" stroke-width="1.2" stroke-linejoin="round" textLength="32.93" lengthAdjust="spacingAndGlyphs">(</tspan><tspan x="120.32" y="0.00" font-size="97.90" font-weight="bold" textLength="24.07" lengthAdjust="spacingAndGlyphs">I</tspan><tspan x="147.20" y="-0.90" font-size="95.20" stroke="#000" stroke-width="1.2" stroke-linejoin="round" textLength="33.06" lengthAdjust="spacingAndGlyphs">)</tspan></text>
<rect x="1121.9" y="159.9" width="556.0" height="375.1" rx="10.5" ry="10.5" fill="#fff" fill-opacity="0.8" stroke="#ccc" stroke-opacity="0.8" stroke-width="3.8"/>
<line x1="1139.9" y1="210.0" x2="1267.2" y2="210.0" stroke="#1f77b4" stroke-width="10.0"/>
<line x1="1139.9" y1="301.2" x2="1267.2" y2="301.2" stroke="#ff7f0e" stroke-width="10.0"/>
<line x1="1139.9" y1="392.0" x2="1267.2" y2="392.0" stroke="#2ca02c" stroke-width="10.0"/>
<line x1="1139.9" y1="480.0" x2="1267.2" y2="480.0" stroke="#d62728" stroke-width="10.0"/>
<text><tspan x="1302.21" y="230.50" font-size="60.60" stroke="#fff" stroke-width="0.50" textLength="28.40" lengthAdjust="spacingAndGlyphs">1</tspan><tspan x="1331.30" y="230.50" font-size="60.60" stroke="#fff" stroke-width="0.50" textLength="28.90" lengthAdjust="spacingAndGlyphs">0</tspan><tspan x="1359.61" y="230.50" font-size="60.60" stroke="#fff" stroke-width="0.50" textLength="28.79" lengthAdjust="spacingAndGlyphs">0</tspan><tspan x="1387.80" y="230.50" font-size="60.60" stroke="#fff" stroke-width="0.50" textLength="28.90" lengthAdjust="spacingAndGlyphs">0</tspan><tspan x="1420.00" y="230.30" font-size="60.00"> </tspan><tspan x="1437.76" y="230.90" font-size="60.60" font-style="italic" stroke="#fff" stroke-width="0.60" textLength="32.81" lengthAdjust="spacingAndGlyphs">μ</tspan><tspan x="1468.32" y="230.80" font-size="63.80" font-style="italic" stroke="#fff" stroke-width="0.65" textLength="56.64" lengthAdjust="spacingAndGlyphs">W</tspan><tspan x="1531.88" y="243.20" font-size="85.00" font-style="italic" stroke="#fff" stroke-width="0.50" textLength="15.01" lengthAdjust="spacingAndGlyphs">/</tspan><tspan x="1553.91" y="230.90" font-size="58.60" font-style="italic" stroke="#fff" stroke-width="0.70" textLength="25.81" lengthAdjust="spacingAndGlyphs">c</tspan><tspan x="1578.34" y="230.90" font-size="58.60" font-style="italic" stroke="#fff" stroke-width="0.80" textLength="51.24" lengthAdjust="spacingAndGlyphs">m</tspan><tspan x="1627.87" y="209.30" font-size="41.80" stroke="#fff" stroke-width="0.30" textLength="21.95" lengthAdjust="spacingAndGlyphs">2</tspan></text>
<text><tspan x="1302.21" y="321.70" font-size="60.60" stroke="#fff" stroke-width="0.50" textLength="28.40" lengthAdjust="spacingAndGlyphs">1</tspan><tspan x="1331.30" y="321.70" font-size="60.60" stroke="#fff" stroke-width="0.50" textLength="28.90" lengthAdjust="spacingAndGlyphs">0</tspan><tspan x="1359.61" y="321.70" font-size="60.60" stroke="#fff" stroke-width="0.50" textLength="28.79" lengthAdjust="spacingAndGlyphs">0</tspan><tspan x="1391.70" y="321.50" font-size="60.00"> </tspan><tspan x="1409.46" y="322.10" font-size="60.60" font-style="italic" stroke="#fff" stroke-width="0.60" textLength="32.81" lengthAdjust="spacingAndGlyphs">μ</tspan><tspan x="1440.02" y="322.00" font-size="63.80" font-style="italic" stroke="#fff" stroke-width="0.65" textLength="56.64" lengthAdjust="spacingAndGlyphs">W</tspan><tspan x="1503.58" y="334.40" font-size="85.00" font-style="italic" stroke="#fff" stroke-width="0.50" textLength="15.01" lengthAdjust="spacingAndGlyphs">/</tspan><tspan x="1525.61" y="322.10" font-size="58.60" font-style="italic" stroke="#fff" stroke-width="0.70" textLength="25.81" lengthAdjust="spacingAndGlyphs">c</tspan><tspan x="1550.04" y="322.10" font-size="58.60" font-style="italic" stroke="#fff" stroke-width="0.80" textLength="51.24" lengthAdjust="spacingAndGlyphs">m</tspan><tspan x="1599.57" y="300.50" font-size="41.80" stroke="#fff" stroke-width="0.30" textLength="21.95" lengthAdjust="spacingAndGlyphs">2</tspan></text>
<text><tspan x="1302.21" y="412.60" font-size="60.60" stroke="#fff" stroke-width="0.50" textLength="28.40" lengthAdjust="spacingAndGlyphs">1</tspan><tspan x="1331.30" y="412.60" font-size="60.60" stroke="#fff" stroke-width="0.50" textLength="28.90" lengthAdjust="spacingAndGlyphs">0</tspan><tspan x="1363.00" y="412.40" font-size="60.00"> </tspan><tspan x="1380.76" y="413.00" font-size="60.60" font-style="italic" stroke="#fff" stroke-width="0.60" textLength="32.81" lengthAdjust="spacingAndGlyphs">μ</tspan><tspan x="1411.32" y="412.90" font-size="63.80" font-style="italic" stroke="#fff" stroke-width="0.65" textLength="56.64" lengthAdjust="spacingAndGlyphs">W</tspan><tspan x="1474.88" y="425.30" font-size="85.00" font-style="italic" stroke="#fff" stroke-width="0.50" textLength="15.01" lengthAdjust="spacingAndGlyphs">/</tspan><tspan x="1496.91" y="413.00" font-size="58.60" font-style="italic" stroke="#fff" stroke-width="0.70" textLength="25.81" lengthAdjust="spacingAndGlyphs">c</tspan><tspan x="1521.34" y="413.00" font-size="58.60" font-style="italic" stroke="#fff" stroke-width="0.80" textLength="51.24" lengthAdjust="spacingAndGlyphs">m</tspan><tspan x="1570.87" y="391.40" font-size="41.80" stroke="#fff" stroke-width="0.30" textLength="21.95" lengthAdjust="spacingAndGlyphs">2</tspan></text>
<text><tspan x="1306.08" y="499.90" font-size="60.30" stroke="#fff" stroke-width="0.50" textLength="43.00" lengthAdjust="spacingAndGlyphs">D</tspan><tspan x="1348.64" y="499.90" font-size="59.60" stroke="#fff" stroke-width="0.50" textLength="43.24" lengthAdjust="spacingAndGlyphs">C</tspan><tspan x="1390.28" y="499.90" font-size="60.30" stroke="#fff" stroke-width="0.50" textLength="42.22" lengthAdjust="spacingAndGlyphs">R</tspan></text>
</svg>
</body></html>
